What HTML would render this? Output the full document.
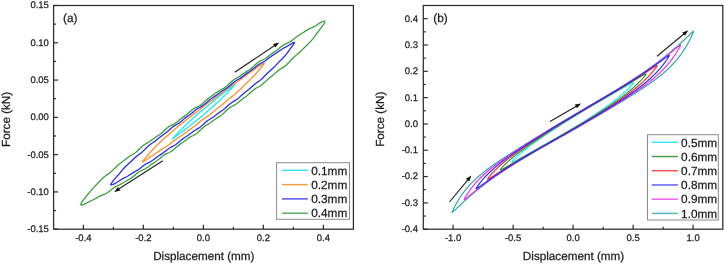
<!DOCTYPE html>
<html><head><meta charset="utf-8"><style>
html,body{margin:0;padding:0;background:#fff;overflow:hidden}
svg{display:block;will-change:transform;filter:blur(0.3px)}
</style></head><body>
<svg width="725" height="264" viewBox="0 0 725 264">
<style>.tk{font-family:"Liberation Sans", sans-serif;font-size:9.5px;fill:#1a1a1a}.lg{font-family:"Liberation Sans", sans-serif;font-size:11.8px;fill:#1a1a1a}.ti{font-family:"Liberation Sans", sans-serif;font-size:11.7px;fill:#1a1a1a}text{stroke:#222;stroke-width:0.25px;text-rendering:geometricPrecision}</style>
<rect width="725" height="264" fill="#fff"/>
<path d="M172.41,138.92 L172.41,138.91 L172.41,138.90 L172.42,138.89 L172.43,138.88 L172.44,138.86 L172.45,138.85 L172.47,138.83 L172.49,138.80 L172.51,138.78 L172.53,138.75 L172.55,138.72 L172.58,138.69 L172.61,138.65 L172.64,138.61 L172.68,138.57 L172.72,138.53 L172.75,138.48 L172.80,138.44 L172.84,138.38 L172.89,138.33 L172.93,138.28 L172.99,138.22 L173.04,138.16 L173.10,138.09 L173.15,138.03 L173.21,137.96 L173.28,137.89 L173.34,137.81 L173.41,137.74 L173.48,137.66 L173.55,137.58 L173.62,137.50 L173.70,137.41 L173.78,137.33 L173.86,137.24 L173.94,137.14 L174.03,137.05 L174.12,136.95 L174.21,136.85 L174.30,136.75 L174.40,136.65 L174.49,136.54 L174.59,136.44 L174.69,136.33 L174.80,136.21 L174.90,136.10 L175.01,135.98 L175.12,135.86 L175.23,135.74 L175.35,135.62 L175.46,135.49 L175.58,135.37 L175.70,135.24 L175.83,135.11 L175.95,134.97 L176.08,134.84 L176.21,134.70 L176.34,134.56 L176.47,134.42 L176.61,134.27 L176.75,134.12 L176.89,133.98 L177.03,133.83 L177.17,133.67 L177.32,133.52 L177.47,133.36 L177.62,133.20 L177.77,133.04 L177.92,132.88 L178.08,132.72 L178.24,132.55 L178.40,132.38 L178.56,132.21 L178.72,132.04 L178.89,131.87 L179.06,131.69 L179.23,131.52 L179.40,131.34 L179.57,131.16 L179.74,130.98 L179.92,130.79 L180.10,130.61 L180.28,130.42 L180.46,130.23 L180.65,130.04 L180.83,129.85 L181.02,129.66 L181.21,129.47 L181.40,129.28 L181.59,129.08 L181.79,128.88 L181.98,128.69 L182.18,128.49 L182.38,128.29 L182.58,128.09 L182.78,127.89 L182.99,127.69 L183.19,127.49 L183.40,127.29 L183.61,127.08 L183.82,126.88 L184.03,126.68 L184.24,126.47 L184.46,126.27 L184.68,126.06 L184.89,125.85 L185.11,125.65 L185.33,125.44 L185.55,125.23 L185.78,125.02 L186.00,124.82 L186.23,124.61 L186.46,124.39 L186.69,124.18 L186.92,123.97 L187.15,123.76 L187.38,123.54 L187.61,123.33 L187.85,123.11 L188.09,122.90 L188.32,122.68 L188.56,122.46 L188.80,122.24 L189.04,122.01 L189.28,121.79 L189.53,121.56 L189.77,121.34 L190.02,121.11 L190.26,120.88 L190.51,120.65 L190.76,120.41 L191.01,120.18 L191.26,119.94 L191.51,119.70 L191.76,119.46 L192.02,119.22 L192.27,118.98 L192.53,118.74 L192.78,118.49 L193.04,118.25 L193.30,118.00 L193.55,117.76 L193.81,117.51 L194.07,117.26 L194.33,117.02 L194.59,116.77 L194.86,116.52 L195.12,116.28 L195.38,116.03 L195.65,115.79 L195.91,115.54 L196.18,115.30 L196.44,115.06 L196.71,114.82 L196.97,114.58 L197.24,114.35 L197.51,114.11 L197.78,113.88 L198.05,113.65 L198.32,113.42 L198.59,113.20 L198.86,112.97 L199.13,112.75 L199.40,112.53 L199.67,112.31 L199.94,112.09 L200.21,111.87 L200.48,111.65 L200.76,111.44 L201.03,111.23 L201.30,111.01 L201.57,110.80 L201.85,110.59 L202.12,110.38 L202.39,110.16 L202.67,109.95 L202.94,109.74 L203.21,109.53 L203.49,109.31 L203.76,109.10 L204.03,108.88 L204.31,108.67 L204.58,108.45 L204.85,108.23 L205.13,108.01 L205.40,107.79 L205.67,107.56 L205.95,107.34 L206.22,107.11 L206.49,106.89 L206.76,106.66 L207.04,106.43 L207.31,106.20 L207.58,105.97 L207.85,105.73 L208.12,105.50 L208.39,105.27 L208.66,105.04 L208.93,104.80 L209.20,104.57 L209.47,104.34 L209.74,104.10 L210.01,103.87 L210.28,103.64 L210.55,103.41 L210.81,103.18 L211.08,102.96 L211.34,102.73 L211.61,102.51 L211.87,102.28 L212.14,102.06 L212.40,101.84 L212.66,101.62 L212.93,101.41 L213.19,101.19 L213.45,100.98 L213.71,100.77 L213.97,100.56 L214.22,100.36 L214.48,100.15 L214.74,99.95 L214.99,99.75 L215.25,99.54 L215.50,99.35 L215.76,99.15 L216.01,98.95 L216.26,98.76 L216.51,98.56 L216.76,98.37 L217.01,98.18 L217.26,97.99 L217.50,97.79 L217.75,97.60 L217.99,97.42 L218.24,97.23 L218.48,97.04 L218.72,96.85 L218.96,96.66 L219.20,96.48 L219.44,96.29 L219.67,96.10 L219.91,95.92 L220.14,95.74 L220.37,95.55 L220.60,95.37 L220.83,95.19 L221.06,95.00 L221.29,94.82 L221.52,94.64 L221.74,94.46 L221.97,94.29 L222.19,94.11 L222.41,93.93 L222.63,93.76 L222.84,93.58 L223.06,93.41 L223.28,93.24 L223.49,93.07 L223.70,92.90 L223.91,92.74 L224.12,92.57 L224.33,92.41 L224.53,92.25 L224.74,92.09 L224.94,91.93 L225.14,91.78 L225.34,91.62 L225.54,91.47 L225.73,91.32 L225.93,91.17 L226.12,91.02 L226.31,90.88 L226.50,90.74 L226.69,90.59 L226.87,90.45 L227.06,90.32 L227.24,90.18 L227.42,90.05 L227.60,89.91 L227.78,89.78 L227.95,89.65 L228.12,89.53 L228.29,89.40 L228.46,89.28 L228.63,89.15 L228.80,89.03 L228.96,88.91 L229.12,88.79 L229.28,88.68 L229.44,88.56 L229.60,88.45 L229.75,88.34 L229.90,88.22 L230.05,88.12 L230.20,88.01 L230.35,87.90 L230.49,87.79 L230.63,87.69 L230.77,87.59 L230.91,87.49 L231.05,87.39 L231.18,87.29 L231.31,87.19 L231.44,87.09 L231.57,87.00 L231.69,86.90 L231.82,86.81 L231.94,86.72 L232.06,86.63 L232.17,86.54 L232.29,86.46 L232.40,86.37 L232.51,86.29 L232.62,86.21 L232.72,86.13 L232.83,86.05 L232.93,85.97 L233.03,85.90 L233.12,85.82 L233.22,85.75 L233.31,85.68 L233.40,85.61 L233.49,85.54 L233.58,85.47 L233.66,85.41 L233.74,85.35 L233.82,85.28 L233.90,85.22 L233.97,85.17 L234.04,85.11 L234.11,85.06 L234.18,85.00 L234.24,84.95 L234.31,84.90 L234.37,84.85 L234.42,84.81 L234.48,84.76 L234.53,84.72 L234.59,84.68 L234.63,84.64 L234.68,84.61 L234.72,84.57 L234.77,84.54 L234.80,84.51 L234.84,84.48 L234.88,84.45 L234.91,84.42 L234.94,84.40 L234.97,84.38 L234.99,84.36 L235.01,84.34 L235.03,84.32 L235.05,84.30 L235.07,84.29 L235.08,84.28 L235.09,84.27 L235.10,84.26 L235.11,84.25 L235.11,84.24 L235.11,84.23 L235.11,84.22 L235.11,84.22 L235.10,84.22 L235.09,84.23 L235.08,84.24 L235.07,84.25 L235.05,84.27 L235.03,84.29 L235.01,84.31 L234.99,84.34 L234.97,84.36 L234.94,84.40 L234.91,84.43 L234.88,84.47 L234.84,84.51 L234.80,84.55 L234.77,84.59 L234.72,84.64 L234.68,84.69 L234.63,84.75 L234.59,84.80 L234.53,84.86 L234.48,84.92 L234.42,84.99 L234.37,85.06 L234.31,85.13 L234.24,85.20 L234.18,85.28 L234.11,85.36 L234.04,85.44 L233.97,85.52 L233.90,85.61 L233.82,85.70 L233.74,85.79 L233.66,85.88 L233.58,85.98 L233.49,86.08 L233.40,86.18 L233.31,86.29 L233.22,86.40 L233.12,86.51 L233.03,86.62 L232.93,86.74 L232.83,86.85 L232.72,86.97 L232.62,87.10 L232.51,87.22 L232.40,87.35 L232.29,87.48 L232.17,87.61 L232.06,87.74 L231.94,87.88 L231.82,88.02 L231.69,88.16 L231.57,88.30 L231.44,88.45 L231.31,88.59 L231.18,88.74 L231.05,88.89 L230.91,89.05 L230.77,89.20 L230.63,89.36 L230.49,89.51 L230.35,89.67 L230.20,89.83 L230.05,90.00 L229.90,90.16 L229.75,90.33 L229.60,90.50 L229.44,90.66 L229.28,90.83 L229.12,91.01 L228.96,91.18 L228.80,91.35 L228.63,91.53 L228.46,91.70 L228.29,91.88 L228.12,92.06 L227.95,92.24 L227.78,92.42 L227.60,92.60 L227.42,92.79 L227.24,92.97 L227.06,93.16 L226.87,93.34 L226.69,93.53 L226.50,93.72 L226.31,93.91 L226.12,94.10 L225.93,94.29 L225.73,94.48 L225.54,94.68 L225.34,94.87 L225.14,95.07 L224.94,95.26 L224.74,95.46 L224.53,95.66 L224.33,95.86 L224.12,96.06 L223.91,96.27 L223.70,96.47 L223.49,96.68 L223.28,96.89 L223.06,97.09 L222.84,97.30 L222.63,97.52 L222.41,97.73 L222.19,97.94 L221.97,98.16 L221.74,98.38 L221.52,98.59 L221.29,98.81 L221.06,99.03 L220.83,99.25 L220.60,99.48 L220.37,99.70 L220.14,99.93 L219.91,100.15 L219.67,100.38 L219.44,100.61 L219.20,100.83 L218.96,101.06 L218.72,101.29 L218.48,101.52 L218.24,101.75 L217.99,101.98 L217.75,102.21 L217.50,102.44 L217.26,102.66 L217.01,102.89 L216.76,103.12 L216.51,103.35 L216.26,103.58 L216.01,103.81 L215.76,104.03 L215.50,104.26 L215.25,104.49 L214.99,104.71 L214.74,104.94 L214.48,105.16 L214.22,105.39 L213.97,105.61 L213.71,105.84 L213.45,106.06 L213.19,106.29 L212.93,106.51 L212.66,106.74 L212.40,106.96 L212.14,107.19 L211.87,107.41 L211.61,107.64 L211.34,107.86 L211.08,108.09 L210.81,108.32 L210.55,108.55 L210.28,108.78 L210.01,109.02 L209.74,109.25 L209.47,109.48 L209.20,109.72 L208.93,109.96 L208.66,110.20 L208.39,110.44 L208.12,110.68 L207.85,110.92 L207.58,111.17 L207.31,111.41 L207.04,111.66 L206.76,111.91 L206.49,112.16 L206.22,112.40 L205.95,112.65 L205.67,112.90 L205.40,113.15 L205.13,113.40 L204.85,113.65 L204.58,113.89 L204.31,114.14 L204.03,114.38 L203.76,114.63 L203.49,114.87 L203.21,115.11 L202.94,115.35 L202.67,115.58 L202.39,115.82 L202.12,116.05 L201.85,116.28 L201.57,116.51 L201.30,116.73 L201.03,116.95 L200.76,117.17 L200.48,117.39 L200.21,117.61 L199.94,117.82 L199.67,118.03 L199.40,118.24 L199.13,118.45 L198.86,118.65 L198.59,118.86 L198.32,119.06 L198.05,119.26 L197.78,119.46 L197.51,119.66 L197.24,119.86 L196.97,120.06 L196.71,120.26 L196.44,120.45 L196.18,120.65 L195.91,120.85 L195.65,121.04 L195.38,121.24 L195.12,121.44 L194.86,121.64 L194.59,121.84 L194.33,122.04 L194.07,122.24 L193.81,122.44 L193.55,122.64 L193.30,122.85 L193.04,123.05 L192.78,123.25 L192.53,123.46 L192.27,123.66 L192.02,123.87 L191.76,124.07 L191.51,124.28 L191.26,124.48 L191.01,124.69 L190.76,124.89 L190.51,125.10 L190.26,125.30 L190.02,125.51 L189.77,125.71 L189.53,125.91 L189.28,126.11 L189.04,126.31 L188.80,126.51 L188.56,126.70 L188.32,126.90 L188.09,127.09 L187.85,127.28 L187.61,127.47 L187.38,127.66 L187.15,127.85 L186.92,128.03 L186.69,128.22 L186.46,128.40 L186.23,128.58 L186.00,128.75 L185.78,128.93 L185.55,129.10 L185.33,129.27 L185.11,129.44 L184.89,129.61 L184.68,129.78 L184.46,129.94 L184.24,130.10 L184.03,130.27 L183.82,130.43 L183.61,130.58 L183.40,130.74 L183.19,130.90 L182.99,131.05 L182.78,131.20 L182.58,131.35 L182.38,131.50 L182.18,131.65 L181.98,131.80 L181.79,131.95 L181.59,132.09 L181.40,132.24 L181.21,132.38 L181.02,132.52 L180.83,132.66 L180.65,132.80 L180.46,132.94 L180.28,133.08 L180.10,133.21 L179.92,133.35 L179.74,133.48 L179.57,133.61 L179.40,133.75 L179.23,133.88 L179.06,134.00 L178.89,134.13 L178.72,134.26 L178.56,134.38 L178.40,134.51 L178.24,134.63 L178.08,134.75 L177.92,134.87 L177.77,134.99 L177.62,135.10 L177.47,135.22 L177.32,135.33 L177.17,135.44 L177.03,135.55 L176.89,135.66 L176.75,135.77 L176.61,135.87 L176.47,135.98 L176.34,136.08 L176.21,136.18 L176.08,136.27 L175.95,136.37 L175.83,136.47 L175.70,136.56 L175.58,136.65 L175.46,136.74 L175.35,136.83 L175.23,136.91 L175.12,137.00 L175.01,137.08 L174.90,137.16 L174.80,137.24 L174.69,137.31 L174.59,137.39 L174.49,137.46 L174.40,137.53 L174.30,137.60 L174.21,137.67 L174.12,137.74 L174.03,137.80 L173.94,137.87 L173.86,137.93 L173.78,137.98 L173.70,138.04 L173.62,138.10 L173.55,138.15 L173.48,138.20 L173.41,138.25 L173.34,138.30 L173.28,138.35 L173.21,138.39 L173.15,138.44 L173.10,138.48 L173.04,138.52 L172.99,138.55 L172.93,138.59 L172.89,138.62 L172.84,138.66 L172.80,138.69 L172.75,138.72 L172.72,138.74 L172.68,138.77 L172.64,138.79 L172.61,138.81 L172.58,138.83 L172.55,138.85 L172.53,138.87 L172.51,138.88 L172.49,138.90 L172.47,138.91 L172.45,138.92 L172.44,138.92 L172.43,138.93 L172.42,138.93 L172.41,138.93 L172.41,138.93 L172.41,138.92" fill="none" stroke="#18e8f4" stroke-width="1.3" stroke-linejoin="round"/>
<path d="M142.41,161.74 L142.41,161.72 L142.42,161.69 L142.43,161.66 L142.45,161.63 L142.47,161.59 L142.49,161.54 L142.52,161.49 L142.56,161.44 L142.60,161.38 L142.64,161.31 L142.69,161.24 L142.74,161.16 L142.80,161.08 L142.86,161.00 L142.93,160.91 L143.00,160.81 L143.08,160.71 L143.16,160.60 L143.25,160.49 L143.34,160.38 L143.43,160.26 L143.53,160.13 L143.63,160.00 L143.74,159.87 L143.86,159.73 L143.97,159.58 L144.10,159.44 L144.22,159.28 L144.35,159.12 L144.49,158.96 L144.63,158.79 L144.77,158.62 L144.92,158.44 L145.07,158.26 L145.23,158.08 L145.40,157.88 L145.56,157.69 L145.73,157.49 L145.91,157.28 L146.09,157.07 L146.27,156.86 L146.46,156.64 L146.65,156.41 L146.85,156.19 L147.05,155.95 L147.26,155.71 L147.47,155.47 L147.68,155.22 L147.90,154.97 L148.12,154.72 L148.35,154.46 L148.58,154.19 L148.82,153.92 L149.06,153.65 L149.30,153.37 L149.55,153.09 L149.80,152.81 L150.06,152.52 L150.32,152.23 L150.58,151.94 L150.85,151.64 L151.12,151.34 L151.40,151.04 L151.68,150.74 L151.96,150.43 L152.25,150.12 L152.54,149.81 L152.84,149.50 L153.14,149.19 L153.44,148.87 L153.75,148.56 L154.06,148.24 L154.37,147.92 L154.69,147.60 L155.01,147.27 L155.34,146.95 L155.67,146.62 L156.00,146.29 L156.34,145.96 L156.68,145.62 L157.02,145.28 L157.37,144.94 L157.72,144.60 L158.08,144.25 L158.43,143.89 L158.79,143.54 L159.16,143.18 L159.53,142.82 L159.90,142.45 L160.27,142.08 L160.65,141.71 L161.03,141.34 L161.42,140.96 L161.80,140.59 L162.20,140.21 L162.59,139.83 L162.99,139.46 L163.39,139.08 L163.79,138.71 L164.20,138.34 L164.61,137.97 L165.02,137.60 L165.43,137.24 L165.85,136.88 L166.27,136.53 L166.70,136.18 L167.12,135.83 L167.55,135.48 L167.98,135.13 L168.42,134.79 L168.85,134.44 L169.29,134.09 L169.74,133.73 L170.18,133.38 L170.63,133.02 L171.08,132.65 L171.53,132.27 L171.99,131.89 L172.45,131.50 L172.91,131.10 L173.37,130.69 L173.83,130.28 L174.30,129.86 L174.77,129.44 L175.24,129.01 L175.71,128.57 L176.19,128.14 L176.66,127.70 L177.14,127.27 L177.62,126.83 L178.11,126.40 L178.59,125.98 L179.08,125.56 L179.57,125.14 L180.06,124.74 L180.55,124.33 L181.05,123.93 L181.54,123.54 L182.04,123.15 L182.54,122.77 L183.04,122.38 L183.54,122.00 L184.05,121.61 L184.55,121.23 L185.06,120.84 L185.57,120.44 L186.08,120.05 L186.59,119.65 L187.10,119.24 L187.61,118.83 L188.13,118.42 L188.65,118.01 L189.16,117.60 L189.68,117.19 L190.20,116.78 L190.72,116.37 L191.24,115.96 L191.76,115.57 L192.29,115.17 L192.81,114.78 L193.33,114.39 L193.86,114.01 L194.39,113.63 L194.91,113.25 L195.44,112.87 L195.97,112.49 L196.50,112.10 L197.02,111.71 L197.55,111.31 L198.08,110.91 L198.61,110.50 L199.15,110.07 L199.68,109.64 L200.21,109.21 L200.74,108.76 L201.27,108.31 L201.80,107.86 L202.34,107.41 L202.87,106.95 L203.40,106.50 L203.93,106.06 L204.46,105.62 L205.00,105.19 L205.53,104.77 L206.06,104.37 L206.59,103.97 L207.12,103.58 L207.65,103.20 L208.19,102.83 L208.72,102.47 L209.25,102.11 L209.78,101.76 L210.30,101.41 L210.83,101.05 L211.36,100.69 L211.89,100.33 L212.41,99.97 L212.94,99.60 L213.47,99.22 L213.99,98.84 L214.51,98.45 L215.04,98.05 L215.56,97.65 L216.08,97.25 L216.60,96.85 L217.12,96.45 L217.64,96.05 L218.15,95.65 L218.67,95.26 L219.19,94.86 L219.70,94.48 L220.21,94.10 L220.72,93.72 L221.23,93.35 L221.74,92.98 L222.25,92.61 L222.75,92.25 L223.26,91.88 L223.76,91.51 L224.26,91.15 L224.76,90.78 L225.26,90.40 L225.75,90.03 L226.25,89.65 L226.74,89.27 L227.23,88.88 L227.72,88.50 L228.21,88.12 L228.69,87.73 L229.18,87.35 L229.66,86.98 L230.14,86.60 L230.61,86.24 L231.09,85.88 L231.56,85.52 L232.03,85.18 L232.50,84.85 L232.97,84.52 L233.43,84.20 L233.90,83.89 L234.35,83.59 L234.81,83.29 L235.27,82.99 L235.72,82.70 L236.17,82.42 L236.62,82.13 L237.06,81.85 L237.51,81.56 L237.95,81.27 L238.38,80.98 L238.82,80.69 L239.25,80.39 L239.68,80.09 L240.10,79.79 L240.53,79.48 L240.95,79.17 L241.37,78.86 L241.78,78.54 L242.19,78.22 L242.60,77.91 L243.01,77.59 L243.41,77.28 L243.81,76.96 L244.21,76.65 L244.60,76.35 L245.00,76.04 L245.38,75.75 L245.77,75.45 L246.15,75.17 L246.53,74.88 L246.90,74.61 L247.27,74.34 L247.64,74.07 L248.01,73.81 L248.37,73.56 L248.72,73.30 L249.08,73.06 L249.43,72.82 L249.78,72.58 L250.12,72.34 L250.46,72.11 L250.80,71.88 L251.13,71.65 L251.46,71.43 L251.79,71.20 L252.11,70.98 L252.43,70.77 L252.74,70.55 L253.05,70.33 L253.36,70.12 L253.66,69.91 L253.96,69.70 L254.26,69.49 L254.55,69.29 L254.84,69.09 L255.12,68.89 L255.40,68.69 L255.68,68.50 L255.95,68.31 L256.22,68.12 L256.48,67.94 L256.74,67.76 L257.00,67.58 L257.25,67.41 L257.50,67.24 L257.74,67.07 L257.98,66.91 L258.22,66.75 L258.45,66.60 L258.68,66.44 L258.90,66.30 L259.12,66.15 L259.33,66.01 L259.54,65.88 L259.75,65.75 L259.95,65.62 L260.15,65.49 L260.34,65.37 L260.53,65.25 L260.71,65.14 L260.89,65.03 L261.07,64.92 L261.24,64.81 L261.40,64.71 L261.57,64.61 L261.73,64.51 L261.88,64.42 L262.03,64.33 L262.17,64.25 L262.31,64.16 L262.45,64.08 L262.58,64.00 L262.70,63.93 L262.83,63.86 L262.94,63.79 L263.06,63.72 L263.17,63.66 L263.27,63.60 L263.37,63.55 L263.46,63.49 L263.55,63.44 L263.64,63.39 L263.72,63.35 L263.80,63.31 L263.87,63.27 L263.94,63.24 L264.00,63.20 L264.06,63.18 L264.11,63.15 L264.16,63.13 L264.20,63.11 L264.24,63.09 L264.28,63.08 L264.31,63.07 L264.33,63.06 L264.35,63.06 L264.37,63.06 L264.38,63.06 L264.39,63.06 L264.39,63.05 L264.39,63.08 L264.38,63.10 L264.37,63.14 L264.35,63.17 L264.33,63.22 L264.31,63.26 L264.28,63.32 L264.24,63.38 L264.20,63.44 L264.16,63.51 L264.11,63.59 L264.06,63.67 L264.00,63.76 L263.94,63.85 L263.87,63.95 L263.80,64.06 L263.72,64.16 L263.64,64.28 L263.55,64.40 L263.46,64.53 L263.37,64.66 L263.27,64.79 L263.17,64.94 L263.06,65.08 L262.94,65.24 L262.83,65.39 L262.70,65.55 L262.58,65.72 L262.45,65.89 L262.31,66.07 L262.17,66.25 L262.03,66.44 L261.88,66.63 L261.73,66.82 L261.57,67.02 L261.40,67.22 L261.24,67.43 L261.07,67.64 L260.89,67.86 L260.71,68.07 L260.53,68.30 L260.34,68.52 L260.15,68.75 L259.95,68.99 L259.75,69.23 L259.54,69.47 L259.33,69.71 L259.12,69.96 L258.90,70.21 L258.68,70.46 L258.45,70.72 L258.22,70.98 L257.98,71.25 L257.74,71.52 L257.50,71.79 L257.25,72.07 L257.00,72.35 L256.74,72.63 L256.48,72.92 L256.22,73.21 L255.95,73.50 L255.68,73.80 L255.40,74.10 L255.12,74.41 L254.84,74.72 L254.55,75.03 L254.26,75.35 L253.96,75.67 L253.66,75.99 L253.36,76.31 L253.05,76.64 L252.74,76.97 L252.43,77.31 L252.11,77.64 L251.79,77.98 L251.46,78.32 L251.13,78.66 L250.80,79.00 L250.46,79.34 L250.12,79.69 L249.78,80.03 L249.43,80.37 L249.08,80.72 L248.72,81.06 L248.37,81.40 L248.01,81.75 L247.64,82.09 L247.27,82.44 L246.90,82.79 L246.53,83.14 L246.15,83.49 L245.77,83.84 L245.38,84.20 L245.00,84.56 L244.60,84.92 L244.21,85.29 L243.81,85.67 L243.41,86.05 L243.01,86.43 L242.60,86.83 L242.19,87.22 L241.78,87.63 L241.37,88.04 L240.95,88.45 L240.53,88.87 L240.10,89.29 L239.68,89.72 L239.25,90.14 L238.82,90.57 L238.38,90.99 L237.95,91.42 L237.51,91.84 L237.06,92.26 L236.62,92.67 L236.17,93.08 L235.72,93.48 L235.27,93.87 L234.81,94.26 L234.35,94.65 L233.90,95.03 L233.43,95.40 L232.97,95.78 L232.50,96.14 L232.03,96.51 L231.56,96.88 L231.09,97.25 L230.61,97.62 L230.14,97.99 L229.66,98.37 L229.18,98.76 L228.69,99.15 L228.21,99.54 L227.72,99.95 L227.23,100.36 L226.74,100.77 L226.25,101.19 L225.75,101.61 L225.26,102.03 L224.76,102.46 L224.26,102.88 L223.76,103.31 L223.26,103.73 L222.75,104.15 L222.25,104.57 L221.74,104.98 L221.23,105.39 L220.72,105.80 L220.21,106.21 L219.70,106.61 L219.19,107.02 L218.67,107.42 L218.15,107.83 L217.64,108.24 L217.12,108.65 L216.60,109.07 L216.08,109.50 L215.56,109.93 L215.04,110.36 L214.51,110.80 L213.99,111.24 L213.47,111.68 L212.94,112.13 L212.41,112.57 L211.89,113.01 L211.36,113.44 L210.83,113.87 L210.30,114.29 L209.78,114.70 L209.25,115.10 L208.72,115.49 L208.19,115.87 L207.65,116.25 L207.12,116.62 L206.59,116.98 L206.06,117.34 L205.53,117.69 L205.00,118.05 L204.46,118.41 L203.93,118.77 L203.40,119.14 L202.87,119.52 L202.34,119.90 L201.80,120.30 L201.27,120.70 L200.74,121.11 L200.21,121.54 L199.68,121.96 L199.15,122.40 L198.61,122.83 L198.08,123.27 L197.55,123.70 L197.02,124.14 L196.50,124.57 L195.97,124.99 L195.44,125.41 L194.91,125.82 L194.39,126.22 L193.86,126.62 L193.33,127.00 L192.81,127.39 L192.29,127.76 L191.76,128.14 L191.24,128.51 L190.72,128.88 L190.20,129.25 L189.68,129.62 L189.16,129.99 L188.65,130.37 L188.13,130.75 L187.61,131.13 L187.10,131.51 L186.59,131.89 L186.08,132.27 L185.57,132.65 L185.06,133.03 L184.55,133.40 L184.05,133.77 L183.54,134.13 L183.04,134.49 L182.54,134.84 L182.04,135.18 L181.54,135.52 L181.05,135.85 L180.55,136.18 L180.06,136.50 L179.57,136.82 L179.08,137.14 L178.59,137.46 L178.11,137.78 L177.62,138.10 L177.14,138.42 L176.66,138.75 L176.19,139.09 L175.71,139.42 L175.24,139.77 L174.77,140.12 L174.30,140.47 L173.83,140.83 L173.37,141.19 L172.91,141.55 L172.45,141.92 L171.99,142.28 L171.53,142.64 L171.08,143.00 L170.63,143.35 L170.18,143.70 L169.74,144.04 L169.29,144.37 L168.85,144.70 L168.42,145.01 L167.98,145.32 L167.55,145.63 L167.12,145.92 L166.70,146.21 L166.27,146.49 L165.85,146.76 L165.43,147.03 L165.02,147.29 L164.61,147.55 L164.20,147.81 L163.79,148.07 L163.39,148.32 L162.99,148.57 L162.59,148.83 L162.20,149.08 L161.80,149.33 L161.42,149.59 L161.03,149.84 L160.65,150.10 L160.27,150.35 L159.90,150.60 L159.53,150.86 L159.16,151.11 L158.79,151.36 L158.43,151.61 L158.08,151.86 L157.72,152.11 L157.37,152.35 L157.02,152.59 L156.68,152.82 L156.34,153.06 L156.00,153.29 L155.67,153.51 L155.34,153.73 L155.01,153.95 L154.69,154.17 L154.37,154.38 L154.06,154.58 L153.75,154.79 L153.44,154.99 L153.14,155.18 L152.84,155.38 L152.54,155.57 L152.25,155.75 L151.96,155.94 L151.68,156.12 L151.40,156.30 L151.12,156.48 L150.85,156.66 L150.58,156.83 L150.32,157.00 L150.06,157.17 L149.80,157.34 L149.55,157.50 L149.30,157.67 L149.06,157.83 L148.82,157.99 L148.58,158.14 L148.35,158.30 L148.12,158.45 L147.90,158.60 L147.68,158.74 L147.47,158.89 L147.26,159.03 L147.05,159.17 L146.85,159.30 L146.65,159.43 L146.46,159.56 L146.27,159.69 L146.09,159.81 L145.91,159.93 L145.73,160.04 L145.56,160.16 L145.40,160.26 L145.23,160.37 L145.07,160.47 L144.92,160.57 L144.77,160.66 L144.63,160.75 L144.49,160.84 L144.35,160.92 L144.22,161.00 L144.10,161.07 L143.97,161.14 L143.86,161.21 L143.74,161.28 L143.63,161.34 L143.53,161.39 L143.43,161.45 L143.34,161.50 L143.25,161.54 L143.16,161.59 L143.08,161.63 L143.00,161.66 L142.93,161.69 L142.86,161.72 L142.80,161.75 L142.74,161.77 L142.69,161.79 L142.64,161.81 L142.60,161.82 L142.56,161.82 L142.52,161.83 L142.49,161.83 L142.47,161.83 L142.45,161.82 L142.43,161.81 L142.42,161.79 L142.41,161.77 L142.41,161.74" fill="none" stroke="#fa9028" stroke-width="1.3" stroke-linejoin="round"/>
<path d="M110.79,184.66 L110.79,184.59 L110.80,184.52 L110.82,184.45 L110.85,184.37 L110.88,184.29 L110.92,184.19 L110.96,184.09 L111.01,183.99 L111.07,183.87 L111.14,183.75 L111.21,183.62 L111.29,183.48 L111.38,183.33 L111.47,183.18 L111.58,183.02 L111.68,182.85 L111.80,182.68 L111.92,182.50 L112.05,182.31 L112.19,182.11 L112.33,181.91 L112.48,181.71 L112.63,181.49 L112.80,181.27 L112.97,181.05 L113.14,180.82 L113.33,180.58 L113.52,180.34 L113.72,180.10 L113.92,179.85 L114.13,179.59 L114.35,179.33 L114.57,179.07 L114.80,178.80 L115.04,178.53 L115.29,178.25 L115.54,177.96 L115.79,177.67 L116.06,177.38 L116.33,177.07 L116.61,176.76 L116.89,176.45 L117.18,176.12 L117.48,175.79 L117.78,175.45 L118.09,175.09 L118.41,174.73 L118.73,174.36 L119.06,173.98 L119.40,173.59 L119.74,173.18 L120.09,172.77 L120.44,172.35 L120.80,171.92 L121.17,171.48 L121.54,171.03 L121.92,170.58 L122.31,170.12 L122.70,169.67 L123.10,169.21 L123.50,168.75 L123.91,168.29 L124.33,167.83 L124.75,167.38 L125.18,166.94 L125.61,166.50 L126.05,166.06 L126.49,165.63 L126.95,165.20 L127.40,164.77 L127.87,164.34 L128.33,163.91 L128.81,163.48 L129.29,163.04 L129.77,162.60 L130.26,162.14 L130.76,161.68 L131.26,161.20 L131.77,160.72 L132.28,160.23 L132.80,159.73 L133.32,159.23 L133.85,158.73 L134.38,158.23 L134.92,157.74 L135.47,157.25 L136.02,156.77 L136.57,156.30 L137.13,155.85 L137.70,155.40 L138.26,154.96 L138.84,154.52 L139.42,154.08 L140.00,153.63 L140.59,153.18 L141.18,152.70 L141.78,152.20 L142.38,151.68 L142.99,151.13 L143.60,150.56 L144.22,149.97 L144.84,149.35 L145.47,148.73 L146.10,148.10 L146.73,147.48 L147.37,146.87 L148.01,146.28 L148.66,145.72 L149.31,145.18 L149.96,144.68 L150.62,144.19 L151.28,143.73 L151.95,143.28 L152.62,142.83 L153.29,142.38 L153.97,141.91 L154.65,141.43 L155.34,140.92 L156.03,140.39 L156.72,139.84 L157.42,139.27 L158.12,138.69 L158.82,138.10 L159.52,137.52 L160.23,136.95 L160.95,136.40 L161.66,135.86 L162.38,135.34 L163.10,134.82 L163.83,134.31 L164.56,133.79 L165.29,133.25 L166.02,132.69 L166.76,132.09 L167.50,131.47 L168.24,130.82 L168.98,130.15 L169.73,129.47 L170.48,128.79 L171.23,128.13 L171.99,127.51 L172.74,126.92 L173.50,126.37 L174.26,125.87 L175.03,125.40 L175.79,124.96 L176.56,124.52 L177.33,124.08 L178.10,123.62 L178.87,123.12 L179.65,122.58 L180.43,121.99 L181.21,121.37 L181.99,120.72 L182.77,120.05 L183.55,119.38 L184.34,118.71 L185.12,118.07 L185.91,117.45 L186.70,116.86 L187.49,116.29 L188.28,115.74 L189.07,115.18 L189.87,114.62 L190.66,114.04 L191.46,113.43 L192.25,112.80 L193.05,112.15 L193.85,111.49 L194.64,110.84 L195.44,110.20 L196.24,109.59 L197.04,109.02 L197.84,108.49 L198.64,108.00 L199.44,107.54 L200.25,107.09 L201.05,106.64 L201.85,106.17 L202.65,105.66 L203.45,105.10 L204.25,104.50 L205.05,103.84 L205.86,103.15 L206.66,102.43 L207.46,101.70 L208.26,100.99 L209.06,100.30 L209.86,99.65 L210.66,99.05 L211.45,98.48 L212.25,97.94 L213.05,97.43 L213.84,96.92 L214.64,96.40 L215.43,95.87 L216.23,95.32 L217.02,94.74 L217.81,94.15 L218.60,93.54 L219.39,92.94 L220.18,92.35 L220.96,91.78 L221.75,91.24 L222.53,90.73 L223.31,90.24 L224.09,89.77 L224.87,89.30 L225.65,88.81 L226.43,88.31 L227.20,87.76 L227.97,87.18 L228.74,86.56 L229.51,85.90 L230.27,85.22 L231.04,84.53 L231.80,83.85 L232.56,83.19 L233.31,82.57 L234.07,81.99 L234.82,81.45 L235.57,80.95 L236.32,80.50 L237.06,80.06 L237.80,79.64 L238.54,79.22 L239.28,78.79 L240.01,78.33 L240.74,77.85 L241.47,77.35 L242.20,76.82 L242.92,76.28 L243.64,75.72 L244.35,75.17 L245.07,74.63 L245.78,74.11 L246.48,73.60 L247.18,73.12 L247.88,72.65 L248.58,72.19 L249.27,71.74 L249.96,71.28 L250.65,70.81 L251.33,70.33 L252.01,69.83 L252.68,69.32 L253.35,68.78 L254.02,68.23 L254.68,67.68 L255.34,67.13 L255.99,66.59 L256.64,66.08 L257.29,65.58 L257.93,65.12 L258.57,64.69 L259.20,64.29 L259.83,63.92 L260.46,63.57 L261.08,63.24 L261.70,62.92 L262.31,62.59 L262.92,62.26 L263.52,61.92 L264.12,61.56 L264.71,61.19 L265.30,60.79 L265.88,60.38 L266.46,59.95 L267.04,59.51 L267.60,59.07 L268.17,58.62 L268.73,58.18 L269.28,57.75 L269.83,57.33 L270.38,56.92 L270.92,56.53 L271.45,56.15 L271.98,55.79 L272.50,55.45 L273.02,55.11 L273.53,54.78 L274.04,54.46 L274.54,54.14 L275.04,53.83 L275.53,53.51 L276.01,53.20 L276.49,52.88 L276.97,52.55 L277.43,52.23 L277.90,51.91 L278.35,51.58 L278.81,51.26 L279.25,50.94 L279.69,50.63 L280.12,50.33 L280.55,50.03 L280.97,49.75 L281.39,49.47 L281.80,49.21 L282.20,48.96 L282.60,48.72 L282.99,48.49 L283.38,48.27 L283.76,48.06 L284.13,47.86 L284.50,47.67 L284.86,47.48 L285.21,47.30 L285.56,47.12 L285.90,46.95 L286.24,46.78 L286.57,46.61 L286.89,46.44 L287.21,46.27 L287.52,46.10 L287.82,45.93 L288.12,45.76 L288.41,45.60 L288.69,45.43 L288.97,45.26 L289.24,45.10 L289.51,44.93 L289.76,44.77 L290.01,44.62 L290.26,44.46 L290.50,44.31 L290.73,44.16 L290.95,44.02 L291.17,43.88 L291.38,43.75 L291.58,43.62 L291.78,43.50 L291.97,43.38 L292.16,43.27 L292.33,43.17 L292.50,43.07 L292.67,42.98 L292.82,42.89 L292.97,42.81 L293.11,42.74 L293.25,42.67 L293.38,42.61 L293.50,42.56 L293.62,42.51 L293.72,42.47 L293.83,42.43 L293.92,42.40 L294.01,42.38 L294.09,42.36 L294.16,42.34 L294.23,42.34 L294.29,42.34 L294.34,42.34 L294.38,42.35 L294.42,42.37 L294.45,42.39 L294.48,42.42 L294.50,42.45 L294.51,42.50 L294.51,42.56 L294.51,42.58 L294.50,42.62 L294.48,42.67 L294.45,42.74 L294.42,42.81 L294.38,42.89 L294.34,42.98 L294.29,43.08 L294.23,43.18 L294.16,43.30 L294.09,43.42 L294.01,43.55 L293.92,43.69 L293.83,43.84 L293.72,43.99 L293.62,44.16 L293.50,44.33 L293.38,44.51 L293.25,44.69 L293.11,44.89 L292.97,45.09 L292.82,45.30 L292.67,45.52 L292.50,45.75 L292.33,45.99 L292.16,46.23 L291.97,46.49 L291.78,46.75 L291.58,47.02 L291.38,47.30 L291.17,47.59 L290.95,47.89 L290.73,48.20 L290.50,48.51 L290.26,48.84 L290.01,49.18 L289.76,49.52 L289.51,49.87 L289.24,50.24 L288.97,50.61 L288.69,50.99 L288.41,51.37 L288.12,51.76 L287.82,52.16 L287.52,52.57 L287.21,52.98 L286.89,53.39 L286.57,53.80 L286.24,54.22 L285.90,54.64 L285.56,55.05 L285.21,55.47 L284.86,55.89 L284.50,56.30 L284.13,56.71 L283.76,57.12 L283.38,57.53 L282.99,57.93 L282.60,58.34 L282.20,58.75 L281.80,59.15 L281.39,59.57 L280.97,59.98 L280.55,60.40 L280.12,60.83 L279.69,61.27 L279.25,61.71 L278.81,62.17 L278.35,62.63 L277.90,63.11 L277.43,63.59 L276.97,64.08 L276.49,64.58 L276.01,65.08 L275.53,65.58 L275.04,66.09 L274.54,66.59 L274.04,67.08 L273.53,67.58 L273.02,68.06 L272.50,68.54 L271.98,69.02 L271.45,69.49 L270.92,69.97 L270.38,70.44 L269.83,70.92 L269.28,71.42 L268.73,71.92 L268.17,72.44 L267.60,72.98 L267.04,73.54 L266.46,74.12 L265.88,74.71 L265.30,75.32 L264.71,75.94 L264.12,76.56 L263.52,77.18 L262.92,77.78 L262.31,78.37 L261.70,78.94 L261.08,79.49 L260.46,80.01 L259.83,80.50 L259.20,80.98 L258.57,81.43 L257.93,81.88 L257.29,82.33 L256.64,82.78 L255.99,83.25 L255.34,83.74 L254.68,84.26 L254.02,84.81 L253.35,85.38 L252.68,85.97 L252.01,86.58 L251.33,87.20 L250.65,87.83 L249.96,88.44 L249.27,89.05 L248.58,89.64 L247.88,90.21 L247.18,90.77 L246.48,91.32 L245.78,91.86 L245.07,92.41 L244.35,92.97 L243.64,93.55 L242.92,94.15 L242.20,94.77 L241.47,95.41 L240.74,96.06 L240.01,96.72 L239.28,97.37 L238.54,98.00 L237.80,98.60 L237.06,99.17 L236.32,99.70 L235.57,100.19 L234.82,100.66 L234.07,101.12 L233.31,101.57 L232.56,102.03 L231.80,102.52 L231.04,103.05 L230.27,103.63 L229.51,104.25 L228.74,104.91 L227.97,105.60 L227.20,106.31 L226.43,107.02 L225.65,107.72 L224.87,108.40 L224.09,109.04 L223.31,109.65 L222.53,110.23 L221.75,110.78 L220.96,111.32 L220.18,111.86 L219.39,112.41 L218.60,112.98 L217.81,113.58 L217.02,114.19 L216.23,114.82 L215.43,115.45 L214.64,116.08 L213.84,116.69 L213.05,117.27 L212.25,117.81 L211.45,118.33 L210.66,118.82 L209.86,119.30 L209.06,119.78 L208.26,120.29 L207.46,120.82 L206.66,121.40 L205.86,122.03 L205.05,122.71 L204.25,123.42 L203.45,124.15 L202.65,124.89 L201.85,125.61 L201.05,126.31 L200.25,126.96 L199.44,127.56 L198.64,128.11 L197.84,128.62 L197.04,129.11 L196.24,129.58 L195.44,130.05 L194.64,130.55 L193.85,131.07 L193.05,131.62 L192.25,132.19 L191.46,132.79 L190.66,133.40 L189.87,134.01 L189.07,134.60 L188.28,135.18 L187.49,135.73 L186.70,136.25 L185.91,136.76 L185.12,137.27 L184.34,137.78 L183.55,138.31 L182.77,138.87 L181.99,139.46 L181.21,140.08 L180.43,140.74 L179.65,141.41 L178.87,142.08 L178.10,142.74 L177.33,143.38 L176.56,143.97 L175.79,144.52 L175.03,145.02 L174.26,145.48 L173.50,145.90 L172.74,146.30 L171.99,146.69 L171.23,147.10 L170.48,147.52 L169.73,147.97 L168.98,148.46 L168.24,148.99 L167.50,149.54 L166.76,150.11 L166.02,150.69 L165.29,151.27 L164.56,151.84 L163.83,152.39 L163.10,152.92 L162.38,153.42 L161.66,153.90 L160.95,154.37 L160.23,154.83 L159.52,155.29 L158.82,155.76 L158.12,156.24 L157.42,156.73 L156.72,157.25 L156.03,157.77 L155.34,158.30 L154.65,158.82 L153.97,159.34 L153.29,159.84 L152.62,160.31 L151.95,160.75 L151.28,161.16 L150.62,161.54 L149.96,161.90 L149.31,162.24 L148.66,162.56 L148.01,162.89 L147.37,163.22 L146.73,163.56 L146.10,163.92 L145.47,164.31 L144.84,164.72 L144.22,165.15 L143.60,165.61 L142.99,166.08 L142.38,166.55 L141.78,167.03 L141.18,167.51 L140.59,167.97 L140.00,168.42 L139.42,168.84 L138.84,169.25 L138.26,169.63 L137.70,170.00 L137.13,170.34 L136.57,170.67 L136.02,170.99 L135.47,171.30 L134.92,171.61 L134.38,171.92 L133.85,172.23 L133.32,172.55 L132.80,172.87 L132.28,173.19 L131.77,173.52 L131.26,173.84 L130.76,174.17 L130.26,174.50 L129.77,174.82 L129.29,175.13 L128.81,175.43 L128.33,175.72 L127.87,176.00 L127.40,176.27 L126.95,176.53 L126.49,176.78 L126.05,177.01 L125.61,177.24 L125.18,177.46 L124.75,177.68 L124.33,177.89 L123.91,178.10 L123.50,178.30 L123.10,178.51 L122.70,178.72 L122.31,178.94 L121.92,179.15 L121.54,179.37 L121.17,179.59 L120.80,179.82 L120.44,180.04 L120.09,180.27 L119.74,180.50 L119.40,180.72 L119.06,180.95 L118.73,181.17 L118.41,181.39 L118.09,181.60 L117.78,181.81 L117.48,182.01 L117.18,182.20 L116.89,182.38 L116.61,182.56 L116.33,182.73 L116.06,182.90 L115.79,183.05 L115.54,183.20 L115.29,183.33 L115.04,183.46 L114.80,183.59 L114.57,183.70 L114.35,183.81 L114.13,183.91 L113.92,184.01 L113.72,184.10 L113.52,184.18 L113.33,184.26 L113.14,184.33 L112.97,184.40 L112.80,184.46 L112.63,184.52 L112.48,184.57 L112.33,184.62 L112.19,184.67 L112.05,184.71 L111.92,184.74 L111.80,184.77 L111.68,184.80 L111.58,184.82 L111.47,184.84 L111.38,184.86 L111.29,184.87 L111.21,184.88 L111.14,184.88 L111.07,184.88 L111.01,184.87 L110.96,184.86 L110.92,184.85 L110.88,184.83 L110.85,184.81 L110.82,184.78 L110.80,184.75 L110.79,184.71 L110.79,184.66" fill="none" stroke="#2a2af0" stroke-width="1.3" stroke-linejoin="round"/>
<path d="M80.79,204.42 L80.79,204.31 L80.81,204.22 L80.83,204.11 L80.86,204.00 L80.91,203.88 L80.96,203.75 L81.02,203.61 L81.09,203.46 L81.17,203.30 L81.25,203.14 L81.35,202.96 L81.46,202.77 L81.57,202.58 L81.70,202.38 L81.83,202.17 L81.98,201.95 L82.13,201.72 L82.29,201.48 L82.46,201.24 L82.64,200.99 L82.83,200.73 L83.03,200.46 L83.24,200.18 L83.46,199.90 L83.68,199.61 L83.92,199.31 L84.16,198.99 L84.42,198.67 L84.68,198.35 L84.95,198.01 L85.23,197.66 L85.52,197.30 L85.82,196.92 L86.12,196.54 L86.44,196.15 L86.76,195.74 L87.10,195.32 L87.44,194.89 L87.79,194.45 L88.15,194.00 L88.52,193.54 L88.90,193.07 L89.28,192.59 L89.68,192.10 L90.08,191.61 L90.49,191.12 L90.91,190.62 L91.34,190.12 L91.78,189.61 L92.23,189.11 L92.68,188.61 L93.14,188.10 L93.61,187.60 L94.09,187.09 L94.58,186.58 L95.08,186.06 L95.58,185.54 L96.09,185.01 L96.61,184.47 L97.14,183.92 L97.68,183.35 L98.22,182.77 L98.78,182.18 L99.34,181.58 L99.90,180.98 L100.48,180.37 L101.07,179.76 L101.66,179.16 L102.26,178.57 L102.86,177.99 L103.48,177.44 L104.10,176.92 L104.73,176.41 L105.37,175.93 L106.01,175.47 L106.66,175.02 L107.32,174.57 L107.99,174.12 L108.66,173.66 L109.35,173.16 L110.03,172.64 L110.73,172.07 L111.43,171.46 L112.14,170.81 L112.86,170.13 L113.58,169.41 L114.31,168.67 L115.05,167.92 L115.79,167.18 L116.54,166.46 L117.30,165.76 L118.06,165.09 L118.83,164.45 L119.60,163.84 L120.39,163.24 L121.17,162.65 L121.97,162.06 L122.77,161.46 L123.58,160.84 L124.39,160.20 L125.21,159.55 L126.03,158.88 L126.86,158.22 L127.70,157.58 L128.54,156.95 L129.39,156.37 L130.24,155.82 L131.10,155.29 L131.97,154.79 L132.84,154.28 L133.71,153.75 L134.59,153.18 L135.48,152.54 L136.37,151.83 L137.26,151.04 L138.17,150.20 L139.07,149.31 L139.98,148.40 L140.90,147.51 L141.82,146.66 L142.74,145.88 L143.67,145.16 L144.61,144.52 L145.54,143.93 L146.49,143.38 L147.43,142.83 L148.38,142.27 L149.34,141.67 L150.30,141.03 L151.26,140.34 L152.23,139.63 L153.20,138.91 L154.18,138.19 L155.15,137.50 L156.14,136.84 L157.12,136.20 L158.11,135.56 L159.10,134.91 L160.10,134.20 L161.10,133.43 L162.10,132.58 L163.11,131.67 L164.12,130.70 L165.13,129.73 L166.14,128.79 L167.16,127.91 L168.18,127.13 L169.20,126.45 L170.23,125.86 L171.25,125.34 L172.28,124.85 L173.32,124.33 L174.35,123.77 L175.39,123.12 L176.43,122.39 L177.47,121.58 L178.51,120.73 L179.56,119.87 L180.60,119.02 L181.65,118.20 L182.70,117.41 L183.75,116.65 L184.80,115.90 L185.86,115.11 L186.91,114.29 L187.97,113.41 L189.03,112.49 L190.09,111.56 L191.15,110.66 L192.21,109.81 L193.27,109.05 L194.33,108.39 L195.39,107.83 L196.46,107.32 L197.52,106.83 L198.59,106.31 L199.65,105.70 L200.71,104.99 L201.78,104.17 L202.85,103.25 L203.91,102.27 L204.98,101.28 L206.04,100.31 L207.10,99.40 L208.17,98.56 L209.23,97.78 L210.30,97.04 L211.36,96.32 L212.42,95.58 L213.48,94.81 L214.54,94.01 L215.60,93.20 L216.66,92.40 L217.72,91.63 L218.78,90.93 L219.83,90.30 L220.89,89.72 L221.94,89.18 L222.99,88.64 L224.04,88.04 L225.09,87.36 L226.13,86.57 L227.18,85.68 L228.22,84.70 L229.26,83.69 L230.30,82.67 L231.34,81.70 L232.37,80.82 L233.41,80.03 L234.44,79.33 L235.46,78.70 L236.49,78.11 L237.51,77.53 L238.53,76.92 L239.55,76.28 L240.56,75.59 L241.57,74.87 L242.58,74.15 L243.59,73.43 L244.59,72.75 L245.59,72.10 L246.59,71.49 L247.58,70.88 L248.57,70.27 L249.55,69.62 L250.54,68.91 L251.51,68.13 L252.49,67.28 L253.46,66.39 L254.43,65.47 L255.39,64.57 L256.35,63.72 L257.31,62.95 L258.26,62.26 L259.20,61.66 L260.15,61.15 L261.08,60.68 L262.02,60.24 L262.95,59.79 L263.87,59.30 L264.79,58.77 L265.71,58.18 L266.62,57.55 L267.52,56.87 L268.43,56.18 L269.32,55.49 L270.21,54.82 L271.10,54.17 L271.98,53.55 L272.85,52.95 L273.72,52.37 L274.59,51.78 L275.45,51.18 L276.30,50.56 L277.15,49.91 L277.99,49.23 L278.83,48.54 L279.66,47.85 L280.48,47.18 L281.30,46.53 L282.11,45.94 L282.92,45.39 L283.72,44.91 L284.52,44.48 L285.30,44.09 L286.09,43.74 L286.86,43.40 L287.63,43.06 L288.39,42.70 L289.15,42.31 L289.90,41.88 L290.64,41.41 L291.38,40.91 L292.11,40.37 L292.83,39.80 L293.55,39.23 L294.26,38.65 L294.96,38.09 L295.66,37.54 L296.34,37.02 L297.03,36.52 L297.70,36.05 L298.37,35.61 L299.03,35.19 L299.68,34.78 L300.32,34.39 L300.96,34.00 L301.59,33.61 L302.21,33.22 L302.83,32.82 L303.43,32.43 L304.03,32.03 L304.62,31.64 L305.21,31.25 L305.79,30.87 L306.35,30.50 L306.91,30.15 L307.47,29.82 L308.01,29.50 L308.55,29.21 L309.08,28.93 L309.60,28.67 L310.11,28.43 L310.61,28.20 L311.11,27.98 L311.60,27.76 L312.08,27.55 L312.55,27.34 L313.01,27.13 L313.46,26.92 L313.91,26.70 L314.35,26.48 L314.78,26.25 L315.20,26.01 L315.61,25.77 L316.01,25.53 L316.41,25.28 L316.79,25.03 L317.17,24.78 L317.54,24.54 L317.90,24.30 L318.25,24.06 L318.59,23.83 L318.93,23.61 L319.25,23.39 L319.57,23.19 L319.87,22.99 L320.17,22.81 L320.46,22.63 L320.74,22.47 L321.01,22.32 L321.27,22.18 L321.53,22.05 L321.77,21.93 L322.01,21.82 L322.23,21.71 L322.45,21.62 L322.66,21.54 L322.86,21.47 L323.05,21.40 L323.23,21.34 L323.40,21.29 L323.56,21.25 L323.71,21.22 L323.86,21.19 L323.99,21.17 L324.12,21.15 L324.23,21.15 L324.34,21.15 L324.44,21.15 L324.52,21.17 L324.60,21.19 L324.67,21.21 L324.73,21.24 L324.78,21.28 L324.83,21.33 L324.86,21.39 L324.88,21.45 L324.90,21.52 L324.90,21.63 L324.90,21.72 L324.88,21.81 L324.86,21.91 L324.83,22.02 L324.78,22.14 L324.73,22.27 L324.67,22.42 L324.60,22.57 L324.52,22.73 L324.44,22.91 L324.34,23.09 L324.23,23.28 L324.12,23.49 L323.99,23.70 L323.86,23.93 L323.71,24.16 L323.56,24.40 L323.40,24.65 L323.23,24.91 L323.05,25.18 L322.86,25.46 L322.66,25.74 L322.45,26.03 L322.23,26.34 L322.01,26.64 L321.77,26.96 L321.53,27.29 L321.27,27.62 L321.01,27.97 L320.74,28.32 L320.46,28.68 L320.17,29.06 L319.87,29.44 L319.57,29.84 L319.25,30.25 L318.93,30.67 L318.59,31.11 L318.25,31.56 L317.90,32.02 L317.54,32.50 L317.17,33.00 L316.79,33.51 L316.41,34.04 L316.01,34.58 L315.61,35.13 L315.20,35.70 L314.78,36.27 L314.35,36.85 L313.91,37.44 L313.46,38.03 L313.01,38.62 L312.55,39.20 L312.08,39.79 L311.60,40.36 L311.11,40.93 L310.61,41.48 L310.11,42.03 L309.60,42.56 L309.08,43.09 L308.55,43.62 L308.01,44.14 L307.47,44.66 L306.91,45.18 L306.35,45.72 L305.79,46.26 L305.21,46.81 L304.62,47.38 L304.03,47.96 L303.43,48.55 L302.83,49.15 L302.21,49.76 L301.59,50.38 L300.96,50.98 L300.32,51.59 L299.68,52.19 L299.03,52.77 L298.37,53.35 L297.70,53.92 L297.03,54.48 L296.34,55.05 L295.66,55.63 L294.96,56.23 L294.26,56.86 L293.55,57.52 L292.83,58.22 L292.11,58.96 L291.38,59.73 L290.64,60.53 L289.90,61.34 L289.15,62.15 L288.39,62.95 L287.63,63.73 L286.86,64.46 L286.09,65.14 L285.30,65.77 L284.52,66.35 L283.72,66.89 L282.92,67.41 L282.11,67.92 L281.30,68.44 L280.48,68.99 L279.66,69.57 L278.83,70.20 L277.99,70.87 L277.15,71.58 L276.30,72.32 L275.45,73.08 L274.59,73.83 L273.72,74.57 L272.85,75.29 L271.98,75.99 L271.10,76.68 L270.21,77.37 L269.32,78.08 L268.43,78.81 L267.52,79.59 L266.62,80.41 L265.71,81.26 L264.79,82.13 L263.87,83.00 L262.95,83.84 L262.02,84.62 L261.08,85.34 L260.15,85.97 L259.20,86.54 L258.26,87.05 L257.31,87.54 L256.35,88.05 L255.39,88.60 L254.43,89.22 L253.46,89.93 L252.49,90.72 L251.51,91.58 L250.54,92.49 L249.55,93.42 L248.57,94.33 L247.58,95.20 L246.59,96.02 L245.59,96.79 L244.59,97.54 L243.59,98.27 L242.58,99.02 L241.57,99.79 L240.56,100.60 L239.55,101.43 L238.53,102.26 L237.51,103.06 L236.49,103.82 L235.46,104.51 L234.44,105.13 L233.41,105.69 L232.37,106.23 L231.34,106.78 L230.30,107.38 L229.26,108.08 L228.22,108.88 L227.18,109.79 L226.13,110.79 L225.09,111.83 L224.04,112.86 L222.99,113.85 L221.94,114.77 L220.89,115.59 L219.83,116.32 L218.78,117.00 L217.72,117.65 L216.66,118.30 L215.60,118.99 L214.54,119.72 L213.48,120.48 L212.42,121.26 L211.36,122.03 L210.30,122.77 L209.23,123.47 L208.17,124.12 L207.10,124.75 L206.04,125.39 L204.98,126.09 L203.91,126.87 L202.85,127.74 L201.78,128.71 L200.71,129.74 L199.65,130.78 L198.59,131.80 L197.52,132.75 L196.46,133.58 L195.39,134.30 L194.33,134.92 L193.27,135.47 L192.21,135.99 L191.15,136.54 L190.09,137.14 L189.03,137.81 L187.97,138.55 L186.91,139.34 L185.86,140.15 L184.80,140.95 L183.75,141.73 L182.70,142.47 L181.65,143.19 L180.60,143.90 L179.56,144.63 L178.51,145.41 L177.47,146.25 L176.43,147.13 L175.39,148.06 L174.35,148.98 L173.32,149.87 L172.28,150.68 L171.25,151.40 L170.23,152.01 L169.20,152.52 L168.18,152.98 L167.16,153.42 L166.14,153.88 L165.13,154.41 L164.12,155.02 L163.11,155.72 L162.10,156.50 L161.10,157.32 L160.10,158.17 L159.10,159.01 L158.11,159.80 L157.12,160.55 L156.14,161.25 L155.15,161.92 L154.18,162.57 L153.20,163.22 L152.23,163.90 L151.26,164.59 L150.30,165.31 L149.34,166.03 L148.38,166.74 L147.43,167.41 L146.49,168.02 L145.54,168.57 L144.61,169.05 L143.67,169.48 L142.74,169.89 L141.82,170.29 L140.90,170.73 L139.98,171.22 L139.07,171.78 L138.17,172.41 L137.26,173.12 L136.37,173.87 L135.48,174.64 L134.59,175.42 L133.71,176.16 L132.84,176.86 L131.97,177.51 L131.10,178.09 L130.24,178.62 L129.39,179.11 L128.54,179.57 L127.70,180.02 L126.86,180.48 L126.03,180.95 L125.21,181.44 L124.39,181.94 L123.58,182.45 L122.77,182.95 L121.97,183.45 L121.17,183.92 L120.39,184.37 L119.60,184.78 L118.83,185.18 L118.06,185.55 L117.30,185.91 L116.54,186.28 L115.79,186.66 L115.05,187.07 L114.31,187.51 L113.58,187.98 L112.86,188.49 L112.14,189.02 L111.43,189.58 L110.73,190.14 L110.03,190.70 L109.35,191.24 L108.66,191.76 L107.99,192.25 L107.32,192.70 L106.66,193.10 L106.01,193.47 L105.37,193.80 L104.73,194.10 L104.10,194.37 L103.48,194.63 L102.86,194.88 L102.26,195.12 L101.66,195.37 L101.07,195.62 L100.48,195.89 L99.90,196.16 L99.34,196.44 L98.78,196.74 L98.22,197.04 L97.68,197.34 L97.14,197.64 L96.61,197.94 L96.09,198.23 L95.58,198.52 L95.08,198.79 L94.58,199.06 L94.09,199.32 L93.61,199.56 L93.14,199.79 L92.68,200.02 L92.23,200.24 L91.78,200.45 L91.34,200.66 L90.91,200.86 L90.49,201.06 L90.08,201.26 L89.68,201.46 L89.28,201.65 L88.90,201.85 L88.52,202.04 L88.15,202.24 L87.79,202.43 L87.44,202.62 L87.10,202.80 L86.76,202.98 L86.44,203.16 L86.12,203.33 L85.82,203.49 L85.52,203.65 L85.23,203.80 L84.95,203.94 L84.68,204.07 L84.42,204.19 L84.16,204.30 L83.92,204.41 L83.68,204.51 L83.46,204.59 L83.24,204.67 L83.03,204.74 L82.83,204.80 L82.64,204.86 L82.46,204.90 L82.29,204.94 L82.13,204.97 L81.98,204.99 L81.83,205.01 L81.70,205.02 L81.57,205.02 L81.46,205.02 L81.35,205.01 L81.25,204.99 L81.17,204.97 L81.09,204.94 L81.02,204.91 L80.96,204.86 L80.91,204.82 L80.86,204.76 L80.83,204.70 L80.81,204.63 L80.79,204.55 L80.79,204.42" fill="none" stroke="#38a03c" stroke-width="1.3" stroke-linejoin="round"/>
<line x1="234.75" y1="72.30" x2="275.05" y2="45.19" stroke="#222" stroke-width="1.15"/><polygon points="279.20,42.40 275.39,47.49 273.05,44.01" fill="#111"/>
<line x1="162.80" y1="160.80" x2="118.31" y2="189.30" stroke="#222" stroke-width="1.15"/><polygon points="114.10,192.00 118.02,187.00 120.28,190.53" fill="#111"/>
<rect x="53.60" y="5.50" width="299.80" height="223.70" fill="none" stroke="#2c2c2c" stroke-width="1.25"/><line x1="53.60" y1="229.20" x2="58.10" y2="229.20" stroke="#2c2c2c" stroke-width="1.2"/><line x1="53.60" y1="191.92" x2="58.10" y2="191.92" stroke="#2c2c2c" stroke-width="1.2"/><line x1="53.60" y1="154.63" x2="58.10" y2="154.63" stroke="#2c2c2c" stroke-width="1.2"/><line x1="53.60" y1="117.35" x2="58.10" y2="117.35" stroke="#2c2c2c" stroke-width="1.2"/><line x1="53.60" y1="80.07" x2="58.10" y2="80.07" stroke="#2c2c2c" stroke-width="1.2"/><line x1="53.60" y1="42.78" x2="58.10" y2="42.78" stroke="#2c2c2c" stroke-width="1.2"/><line x1="53.60" y1="5.50" x2="58.10" y2="5.50" stroke="#2c2c2c" stroke-width="1.2"/><line x1="53.60" y1="210.56" x2="56.10" y2="210.56" stroke="#2c2c2c" stroke-width="1.2"/><line x1="53.60" y1="173.27" x2="56.10" y2="173.27" stroke="#2c2c2c" stroke-width="1.2"/><line x1="53.60" y1="135.99" x2="56.10" y2="135.99" stroke="#2c2c2c" stroke-width="1.2"/><line x1="53.60" y1="98.71" x2="56.10" y2="98.71" stroke="#2c2c2c" stroke-width="1.2"/><line x1="53.60" y1="61.42" x2="56.10" y2="61.42" stroke="#2c2c2c" stroke-width="1.2"/><line x1="53.60" y1="24.14" x2="56.10" y2="24.14" stroke="#2c2c2c" stroke-width="1.2"/><line x1="83.40" y1="229.20" x2="83.40" y2="224.70" stroke="#2c2c2c" stroke-width="1.2"/><line x1="143.40" y1="229.20" x2="143.40" y2="224.70" stroke="#2c2c2c" stroke-width="1.2"/><line x1="203.40" y1="229.20" x2="203.40" y2="224.70" stroke="#2c2c2c" stroke-width="1.2"/><line x1="263.40" y1="229.20" x2="263.40" y2="224.70" stroke="#2c2c2c" stroke-width="1.2"/><line x1="323.40" y1="229.20" x2="323.40" y2="224.70" stroke="#2c2c2c" stroke-width="1.2"/><line x1="113.40" y1="229.20" x2="113.40" y2="226.70" stroke="#2c2c2c" stroke-width="1.2"/><line x1="173.40" y1="229.20" x2="173.40" y2="226.70" stroke="#2c2c2c" stroke-width="1.2"/><line x1="233.40" y1="229.20" x2="233.40" y2="226.70" stroke="#2c2c2c" stroke-width="1.2"/><line x1="293.40" y1="229.20" x2="293.40" y2="226.70" stroke="#2c2c2c" stroke-width="1.2"/><text x="48.90" y="232.10" text-anchor="end" class="tk">-0.15</text><text x="48.90" y="194.82" text-anchor="end" class="tk">-0.10</text><text x="48.90" y="157.53" text-anchor="end" class="tk">-0.05</text><text x="48.90" y="120.25" text-anchor="end" class="tk">0.00</text><text x="48.90" y="82.97" text-anchor="end" class="tk">0.05</text><text x="48.90" y="45.68" text-anchor="end" class="tk">0.10</text><text x="48.90" y="8.40" text-anchor="end" class="tk">0.15</text><text x="83.40" y="241.40" text-anchor="middle" class="tk">-0.4</text><text x="143.40" y="241.40" text-anchor="middle" class="tk">-0.2</text><text x="203.40" y="241.40" text-anchor="middle" class="tk">0.0</text><text x="263.40" y="241.40" text-anchor="middle" class="tk">0.2</text><text x="323.40" y="241.40" text-anchor="middle" class="tk">0.4</text>
<text x="63" y="21.6" class="lg">(a)</text>
<rect x="276.60" y="162.70" width="72.90" height="56.60" fill="#fff" stroke="#8a8a8a" stroke-width="1"/><line x1="281.90" y1="170.30" x2="307.80" y2="170.30" stroke="#2ee6f2" stroke-width="1.4"/><text x="311.20" y="174.50" class="lg">0.1mm</text><line x1="281.90" y1="184.60" x2="307.80" y2="184.60" stroke="#f59a3c" stroke-width="1.4"/><text x="311.20" y="188.80" class="lg">0.2mm</text><line x1="281.90" y1="198.90" x2="307.80" y2="198.90" stroke="#4a4ae8" stroke-width="1.4"/><text x="311.20" y="203.10" class="lg">0.3mm</text><line x1="281.90" y1="213.20" x2="307.80" y2="213.20" stroke="#4fa852" stroke-width="1.4"/><text x="311.20" y="217.40" class="lg">0.4mm</text>
<text x="203.8" y="259.7" text-anchor="middle" class="ti">Displacement (mm)</text>
<text transform="translate(10.2,119.4) rotate(-90)" text-anchor="middle" class="ti">Force (kN)</text>
<path d="M511.78,161.94 L511.78,161.91 L511.79,161.88 L511.80,161.84 L511.82,161.80 L511.84,161.76 L511.86,161.71 L511.89,161.65 L511.93,161.60 L511.97,161.54 L512.01,161.47 L512.06,161.40 L512.11,161.33 L512.17,161.26 L512.23,161.18 L512.30,161.09 L512.37,161.01 L512.45,160.92 L512.53,160.82 L512.61,160.72 L512.70,160.62 L512.80,160.51 L512.90,160.41 L513.00,160.29 L513.11,160.18 L513.22,160.06 L513.34,159.93 L513.46,159.80 L513.59,159.67 L513.72,159.54 L513.85,159.40 L513.99,159.26 L514.14,159.12 L514.29,158.97 L514.44,158.82 L514.60,158.66 L514.76,158.51 L514.92,158.35 L515.09,158.18 L515.27,158.02 L515.45,157.85 L515.63,157.67 L515.82,157.50 L516.01,157.32 L516.21,157.14 L516.41,156.95 L516.62,156.76 L516.83,156.57 L517.04,156.38 L517.26,156.18 L517.48,155.99 L517.71,155.78 L517.94,155.58 L518.17,155.37 L518.41,155.16 L518.65,154.95 L518.90,154.74 L519.15,154.52 L519.41,154.30 L519.67,154.08 L519.93,153.86 L520.20,153.63 L520.47,153.40 L520.75,153.17 L521.02,152.94 L521.31,152.70 L521.60,152.46 L521.89,152.22 L522.18,151.98 L522.48,151.74 L522.78,151.49 L523.09,151.24 L523.40,150.99 L523.71,150.74 L524.03,150.49 L524.35,150.23 L524.68,149.98 L525.01,149.72 L525.34,149.46 L525.67,149.19 L526.01,148.93 L526.36,148.66 L526.70,148.39 L527.05,148.12 L527.41,147.85 L527.76,147.58 L528.12,147.30 L528.49,147.03 L528.86,146.75 L529.23,146.47 L529.60,146.19 L529.98,145.91 L530.36,145.62 L530.74,145.34 L531.13,145.05 L531.52,144.76 L531.91,144.47 L532.31,144.18 L532.71,143.89 L533.11,143.60 L533.51,143.30 L533.92,143.01 L534.33,142.71 L534.75,142.41 L535.16,142.11 L535.58,141.81 L536.01,141.51 L536.43,141.21 L536.86,140.91 L537.29,140.60 L537.72,140.29 L538.16,139.99 L538.60,139.68 L539.04,139.37 L539.48,139.06 L539.93,138.75 L540.38,138.44 L540.83,138.12 L541.29,137.81 L541.74,137.50 L542.20,137.18 L542.66,136.87 L543.12,136.55 L543.59,136.23 L544.06,135.91 L544.53,135.59 L545.00,135.27 L545.47,134.95 L545.95,134.63 L546.43,134.31 L546.91,133.99 L547.39,133.66 L547.87,133.34 L548.36,133.01 L548.85,132.69 L549.34,132.36 L549.83,132.04 L550.32,131.71 L550.82,131.39 L551.31,131.06 L551.81,130.73 L552.31,130.40 L552.81,130.07 L553.32,129.75 L553.82,129.42 L554.33,129.09 L554.83,128.76 L555.34,128.43 L555.85,128.10 L556.36,127.77 L556.87,127.44 L557.39,127.10 L557.90,126.77 L558.42,126.44 L558.93,126.11 L559.45,125.78 L559.97,125.45 L560.49,125.12 L561.01,124.79 L561.53,124.46 L562.06,124.12 L562.58,123.79 L563.10,123.46 L563.63,123.13 L564.15,122.80 L564.68,122.47 L565.21,122.14 L565.73,121.81 L566.26,121.48 L566.79,121.15 L567.32,120.82 L567.85,120.49 L568.38,120.16 L568.91,119.83 L569.44,119.50 L569.97,119.17 L570.50,118.84 L571.03,118.52 L571.56,118.19 L572.09,117.86 L572.62,117.53 L573.15,117.21 L573.68,116.88 L574.21,116.56 L574.74,116.23 L575.27,115.91 L575.80,115.59 L576.33,115.26 L576.86,114.94 L577.39,114.62 L577.92,114.30 L578.45,113.98 L578.98,113.66 L579.51,113.34 L580.03,113.02 L580.56,112.70 L581.09,112.39 L581.61,112.07 L582.14,111.76 L582.66,111.44 L583.18,111.13 L583.71,110.81 L584.23,110.50 L584.75,110.19 L585.27,109.88 L585.79,109.57 L586.31,109.26 L586.82,108.96 L587.34,108.65 L587.85,108.34 L588.37,108.04 L588.88,107.74 L589.39,107.43 L589.90,107.13 L590.41,106.83 L590.91,106.53 L591.42,106.23 L591.92,105.94 L592.43,105.64 L592.93,105.34 L593.43,105.05 L593.93,104.76 L594.42,104.47 L594.92,104.18 L595.41,103.89 L595.90,103.60 L596.39,103.31 L596.88,103.03 L597.37,102.74 L597.85,102.46 L598.33,102.18 L598.81,101.90 L599.29,101.62 L599.77,101.34 L600.24,101.06 L600.71,100.79 L601.18,100.51 L601.65,100.24 L602.12,99.97 L602.58,99.70 L603.04,99.43 L603.50,99.17 L603.95,98.90 L604.41,98.64 L604.86,98.38 L605.31,98.12 L605.76,97.86 L606.20,97.60 L606.64,97.34 L607.08,97.09 L607.52,96.84 L607.95,96.59 L608.38,96.34 L608.81,96.09 L609.23,95.84 L609.66,95.60 L610.08,95.36 L610.49,95.11 L610.91,94.88 L611.32,94.64 L611.73,94.40 L612.13,94.17 L612.53,93.94 L612.93,93.71 L613.33,93.48 L613.72,93.25 L614.11,93.03 L614.50,92.80 L614.88,92.58 L615.26,92.37 L615.64,92.15 L616.01,91.93 L616.38,91.72 L616.75,91.51 L617.12,91.30 L617.48,91.09 L617.83,90.89 L618.19,90.69 L618.54,90.49 L618.88,90.29 L619.23,90.09 L619.57,89.90 L619.90,89.71 L620.23,89.52 L620.56,89.33 L620.89,89.14 L621.21,88.96 L621.53,88.78 L621.84,88.60 L622.15,88.43 L622.46,88.25 L622.76,88.08 L623.06,87.91 L623.35,87.75 L623.64,87.58 L623.93,87.42 L624.22,87.26 L624.49,87.10 L624.77,86.95 L625.04,86.80 L625.31,86.65 L625.57,86.50 L625.83,86.36 L626.09,86.21 L626.34,86.08 L626.59,85.94 L626.83,85.80 L627.07,85.67 L627.30,85.54 L627.53,85.42 L627.76,85.30 L627.98,85.17 L628.20,85.06 L628.41,84.94 L628.62,84.83 L628.83,84.72 L629.03,84.61 L629.23,84.51 L629.42,84.41 L629.61,84.31 L629.79,84.21 L629.97,84.12 L630.15,84.03 L630.32,83.94 L630.48,83.86 L630.64,83.78 L630.80,83.70 L630.95,83.62 L631.10,83.55 L631.25,83.48 L631.39,83.42 L631.52,83.35 L631.65,83.29 L631.78,83.23 L631.90,83.18 L632.02,83.13 L632.13,83.08 L632.24,83.03 L632.34,82.99 L632.44,82.95 L632.54,82.91 L632.63,82.88 L632.71,82.85 L632.79,82.82 L632.87,82.80 L632.94,82.78 L633.01,82.76 L633.07,82.75 L633.13,82.73 L633.18,82.72 L633.23,82.72 L633.27,82.72 L633.31,82.72 L633.35,82.72 L633.38,82.73 L633.40,82.74 L633.42,82.75 L633.44,82.77 L633.45,82.79 L633.46,82.81 L633.46,82.83 L633.46,82.86 L633.45,82.90 L633.44,82.94 L633.42,82.98 L633.40,83.02 L633.38,83.08 L633.35,83.13 L633.31,83.19 L633.27,83.26 L633.23,83.32 L633.18,83.40 L633.13,83.47 L633.07,83.55 L633.01,83.64 L632.94,83.73 L632.87,83.82 L632.79,83.92 L632.71,84.02 L632.63,84.13 L632.54,84.24 L632.44,84.35 L632.34,84.47 L632.24,84.59 L632.13,84.72 L632.02,84.85 L631.90,84.98 L631.78,85.12 L631.65,85.26 L631.52,85.41 L631.39,85.56 L631.25,85.71 L631.10,85.87 L630.95,86.03 L630.80,86.19 L630.64,86.36 L630.48,86.53 L630.32,86.70 L630.15,86.88 L629.97,87.06 L629.79,87.25 L629.61,87.43 L629.42,87.62 L629.23,87.82 L629.03,88.01 L628.83,88.21 L628.62,88.42 L628.41,88.62 L628.20,88.83 L627.98,89.04 L627.76,89.26 L627.53,89.48 L627.30,89.70 L627.07,89.92 L626.83,90.14 L626.59,90.37 L626.34,90.60 L626.09,90.84 L625.83,91.07 L625.57,91.31 L625.31,91.55 L625.04,91.79 L624.77,92.04 L624.49,92.29 L624.22,92.54 L623.93,92.79 L623.64,93.04 L623.35,93.30 L623.06,93.56 L622.76,93.82 L622.46,94.08 L622.15,94.34 L621.84,94.61 L621.53,94.88 L621.21,95.15 L620.89,95.42 L620.56,95.69 L620.23,95.96 L619.90,96.24 L619.57,96.52 L619.23,96.80 L618.88,97.08 L618.54,97.36 L618.19,97.65 L617.83,97.93 L617.48,98.22 L617.12,98.51 L616.75,98.80 L616.38,99.09 L616.01,99.38 L615.64,99.68 L615.26,99.97 L614.88,100.27 L614.50,100.56 L614.11,100.86 L613.72,101.16 L613.33,101.46 L612.93,101.76 L612.53,102.07 L612.13,102.37 L611.73,102.68 L611.32,102.98 L610.91,103.29 L610.49,103.60 L610.08,103.91 L609.66,104.22 L609.23,104.53 L608.81,104.84 L608.38,105.15 L607.95,105.46 L607.52,105.78 L607.08,106.09 L606.64,106.40 L606.20,106.72 L605.76,107.04 L605.31,107.35 L604.86,107.67 L604.41,107.99 L603.95,108.31 L603.50,108.63 L603.04,108.95 L602.58,109.27 L602.12,109.59 L601.65,109.91 L601.18,110.23 L600.71,110.55 L600.24,110.88 L599.77,111.20 L599.29,111.52 L598.81,111.85 L598.33,112.17 L597.85,112.50 L597.37,112.82 L596.88,113.15 L596.39,113.47 L595.90,113.80 L595.41,114.12 L594.92,114.45 L594.42,114.78 L593.93,115.10 L593.43,115.43 L592.93,115.76 L592.43,116.08 L591.92,116.41 L591.42,116.74 L590.91,117.06 L590.41,117.39 L589.90,117.72 L589.39,118.05 L588.88,118.37 L588.37,118.70 L587.85,119.03 L587.34,119.35 L586.82,119.68 L586.31,120.01 L585.79,120.33 L585.27,120.66 L584.75,120.99 L584.23,121.31 L583.71,121.64 L583.18,121.97 L582.66,122.29 L582.14,122.62 L581.61,122.94 L581.09,123.27 L580.56,123.59 L580.03,123.92 L579.51,124.24 L578.98,124.56 L578.45,124.89 L577.92,125.21 L577.39,125.53 L576.86,125.85 L576.33,126.17 L575.80,126.49 L575.27,126.82 L574.74,127.14 L574.21,127.45 L573.68,127.77 L573.15,128.09 L572.62,128.41 L572.09,128.73 L571.56,129.04 L571.03,129.36 L570.50,129.68 L569.97,129.99 L569.44,130.31 L568.91,130.62 L568.38,130.93 L567.85,131.24 L567.32,131.56 L566.79,131.87 L566.26,132.18 L565.73,132.49 L565.21,132.79 L564.68,133.10 L564.15,133.41 L563.63,133.72 L563.10,134.02 L562.58,134.33 L562.06,134.63 L561.53,134.93 L561.01,135.23 L560.49,135.54 L559.97,135.84 L559.45,136.13 L558.93,136.43 L558.42,136.73 L557.90,137.03 L557.39,137.32 L556.87,137.62 L556.36,137.91 L555.85,138.20 L555.34,138.49 L554.83,138.78 L554.33,139.07 L553.82,139.36 L553.32,139.65 L552.81,139.94 L552.31,140.22 L551.81,140.50 L551.31,140.79 L550.82,141.07 L550.32,141.35 L549.83,141.63 L549.34,141.91 L548.85,142.18 L548.36,142.46 L547.87,142.73 L547.39,143.01 L546.91,143.28 L546.43,143.55 L545.95,143.82 L545.47,144.09 L545.00,144.35 L544.53,144.62 L544.06,144.88 L543.59,145.15 L543.12,145.41 L542.66,145.67 L542.20,145.93 L541.74,146.18 L541.29,146.44 L540.83,146.69 L540.38,146.95 L539.93,147.20 L539.48,147.45 L539.04,147.69 L538.60,147.94 L538.16,148.19 L537.72,148.43 L537.29,148.67 L536.86,148.91 L536.43,149.15 L536.01,149.39 L535.58,149.63 L535.16,149.86 L534.75,150.09 L534.33,150.32 L533.92,150.55 L533.51,150.78 L533.11,151.01 L532.71,151.23 L532.31,151.45 L531.91,151.67 L531.52,151.89 L531.13,152.11 L530.74,152.32 L530.36,152.54 L529.98,152.75 L529.60,152.96 L529.23,153.16 L528.86,153.37 L528.49,153.57 L528.12,153.77 L527.76,153.97 L527.41,154.17 L527.05,154.37 L526.70,154.56 L526.36,154.75 L526.01,154.94 L525.67,155.13 L525.34,155.31 L525.01,155.50 L524.68,155.68 L524.35,155.86 L524.03,156.04 L523.71,156.21 L523.40,156.38 L523.09,156.55 L522.78,156.72 L522.48,156.89 L522.18,157.05 L521.89,157.21 L521.60,157.37 L521.31,157.53 L521.02,157.68 L520.75,157.83 L520.47,157.98 L520.20,158.13 L519.93,158.27 L519.67,158.41 L519.41,158.55 L519.15,158.69 L518.90,158.83 L518.65,158.96 L518.41,159.09 L518.17,159.21 L517.94,159.34 L517.71,159.46 L517.48,159.58 L517.26,159.70 L517.04,159.81 L516.83,159.92 L516.62,160.03 L516.41,160.14 L516.21,160.24 L516.01,160.34 L515.82,160.44 L515.63,160.53 L515.45,160.63 L515.27,160.72 L515.09,160.80 L514.92,160.89 L514.76,160.97 L514.60,161.05 L514.44,161.12 L514.29,161.19 L514.14,161.26 L513.99,161.33 L513.85,161.40 L513.72,161.46 L513.59,161.51 L513.46,161.57 L513.34,161.62 L513.22,161.67 L513.11,161.72 L513.00,161.76 L512.90,161.80 L512.80,161.84 L512.70,161.88 L512.61,161.91 L512.53,161.94 L512.45,161.96 L512.37,161.99 L512.30,162.00 L512.23,162.02 L512.17,162.04 L512.11,162.05 L512.06,162.05 L512.01,162.06 L511.97,162.06 L511.93,162.06 L511.89,162.05 L511.86,162.05 L511.84,162.04 L511.82,162.02 L511.80,162.01 L511.79,161.99 L511.78,161.97 L511.78,161.94" fill="none" stroke="#14f0f8" stroke-width="1.15" stroke-linejoin="round"/>
<path d="M500.38,169.71 L500.38,169.68 L500.39,169.64 L500.40,169.60 L500.42,169.55 L500.45,169.50 L500.48,169.45 L500.52,169.38 L500.56,169.32 L500.60,169.24 L500.66,169.16 L500.72,169.08 L500.78,168.99 L500.85,168.90 L500.92,168.80 L501.00,168.70 L501.09,168.59 L501.18,168.48 L501.28,168.36 L501.38,168.24 L501.49,168.11 L501.60,167.98 L501.72,167.84 L501.84,167.70 L501.97,167.55 L502.11,167.40 L502.25,167.25 L502.39,167.09 L502.54,166.92 L502.70,166.76 L502.86,166.58 L503.03,166.41 L503.20,166.23 L503.38,166.04 L503.56,165.85 L503.75,165.66 L503.95,165.46 L504.14,165.26 L504.35,165.05 L504.56,164.84 L504.77,164.63 L504.99,164.42 L505.22,164.20 L505.45,163.97 L505.68,163.75 L505.92,163.52 L506.17,163.28 L506.42,163.05 L506.68,162.81 L506.94,162.56 L507.20,162.32 L507.48,162.07 L507.75,161.81 L508.03,161.56 L508.32,161.30 L508.61,161.04 L508.91,160.77 L509.21,160.51 L509.51,160.24 L509.82,159.96 L510.14,159.69 L510.46,159.41 L510.78,159.13 L511.11,158.85 L511.45,158.57 L511.79,158.28 L512.13,157.99 L512.48,157.70 L512.83,157.40 L513.19,157.11 L513.55,156.81 L513.92,156.51 L514.29,156.21 L514.67,155.90 L515.05,155.60 L515.43,155.29 L515.82,154.98 L516.21,154.67 L516.61,154.35 L517.01,154.04 L517.42,153.72 L517.83,153.40 L518.25,153.08 L518.67,152.75 L519.09,152.43 L519.52,152.10 L519.95,151.77 L520.38,151.45 L520.82,151.11 L521.27,150.78 L521.71,150.45 L522.17,150.11 L522.62,149.77 L523.08,149.44 L523.54,149.10 L524.01,148.75 L524.48,148.41 L524.95,148.07 L525.43,147.72 L525.91,147.37 L526.40,147.03 L526.89,146.68 L527.38,146.33 L527.88,145.97 L528.38,145.62 L528.88,145.26 L529.38,144.91 L529.89,144.55 L530.41,144.19 L530.92,143.83 L531.44,143.47 L531.96,143.11 L532.49,142.75 L533.02,142.39 L533.55,142.02 L534.08,141.65 L534.62,141.29 L535.16,140.92 L535.70,140.55 L536.25,140.18 L536.80,139.81 L537.35,139.44 L537.91,139.06 L538.46,138.69 L539.02,138.32 L539.59,137.94 L540.15,137.57 L540.72,137.19 L541.29,136.81 L541.86,136.43 L542.44,136.05 L543.01,135.67 L543.59,135.29 L544.18,134.91 L544.76,134.53 L545.35,134.15 L545.93,133.76 L546.52,133.38 L547.12,133.00 L547.71,132.61 L548.31,132.23 L548.91,131.84 L549.51,131.45 L550.11,131.07 L550.71,130.68 L551.32,130.29 L551.92,129.90 L552.53,129.52 L553.14,129.13 L553.75,128.74 L554.37,128.35 L554.98,127.96 L555.60,127.57 L556.22,127.18 L556.83,126.79 L557.45,126.40 L558.08,126.01 L558.70,125.62 L559.32,125.23 L559.95,124.84 L560.57,124.45 L561.20,124.06 L561.83,123.67 L562.45,123.28 L563.08,122.89 L563.71,122.50 L564.34,122.11 L564.97,121.72 L565.61,121.33 L566.24,120.94 L566.87,120.55 L567.51,120.16 L568.14,119.78 L568.77,119.39 L569.41,119.00 L570.04,118.61 L570.68,118.23 L571.31,117.84 L571.95,117.45 L572.58,117.07 L573.22,116.68 L573.86,116.30 L574.49,115.91 L575.13,115.53 L575.76,115.14 L576.40,114.76 L577.03,114.38 L577.67,114.00 L578.30,113.62 L578.93,113.24 L579.57,112.86 L580.20,112.48 L580.83,112.10 L581.47,111.72 L582.10,111.35 L582.73,110.97 L583.36,110.59 L583.99,110.22 L584.61,109.85 L585.24,109.47 L585.87,109.10 L586.49,108.73 L587.12,108.36 L587.74,107.99 L588.36,107.62 L588.99,107.25 L589.61,106.89 L590.22,106.52 L590.84,106.16 L591.46,105.79 L592.07,105.43 L592.69,105.07 L593.30,104.71 L593.91,104.35 L594.52,103.99 L595.12,103.63 L595.73,103.28 L596.33,102.92 L596.93,102.57 L597.53,102.22 L598.13,101.87 L598.73,101.52 L599.32,101.17 L599.92,100.82 L600.51,100.47 L601.09,100.13 L601.68,99.78 L602.26,99.44 L602.85,99.10 L603.43,98.76 L604.00,98.42 L604.58,98.08 L605.15,97.75 L605.72,97.41 L606.29,97.08 L606.85,96.75 L607.42,96.41 L607.98,96.09 L608.53,95.76 L609.09,95.43 L609.64,95.11 L610.19,94.78 L610.74,94.46 L611.28,94.14 L611.82,93.82 L612.36,93.51 L612.89,93.19 L613.42,92.88 L613.95,92.57 L614.48,92.26 L615.00,91.95 L615.52,91.64 L616.03,91.34 L616.55,91.03 L617.06,90.73 L617.56,90.43 L618.06,90.13 L618.56,89.84 L619.06,89.54 L619.55,89.25 L620.04,88.96 L620.53,88.67 L621.01,88.39 L621.49,88.10 L621.96,87.82 L622.43,87.54 L622.90,87.26 L623.36,86.98 L623.82,86.71 L624.27,86.44 L624.73,86.17 L625.17,85.90 L625.62,85.63 L626.06,85.37 L626.49,85.11 L626.92,84.85 L627.35,84.59 L627.77,84.34 L628.19,84.09 L628.61,83.84 L629.02,83.59 L629.43,83.35 L629.83,83.11 L630.23,82.87 L630.62,82.63 L631.01,82.39 L631.39,82.16 L631.77,81.93 L632.15,81.71 L632.52,81.48 L632.89,81.26 L633.25,81.04 L633.61,80.83 L633.96,80.61 L634.31,80.40 L634.65,80.19 L634.99,79.99 L635.33,79.79 L635.66,79.59 L635.98,79.39 L636.30,79.20 L636.62,79.01 L636.93,78.82 L637.23,78.64 L637.53,78.46 L637.83,78.28 L638.12,78.11 L638.41,77.94 L638.69,77.77 L638.96,77.60 L639.24,77.44 L639.50,77.28 L639.76,77.13 L640.02,76.98 L640.27,76.83 L640.52,76.68 L640.76,76.54 L640.99,76.40 L641.22,76.27 L641.45,76.14 L641.67,76.01 L641.88,75.89 L642.09,75.77 L642.30,75.65 L642.49,75.54 L642.69,75.43 L642.88,75.32 L643.06,75.22 L643.24,75.12 L643.41,75.02 L643.58,74.93 L643.74,74.84 L643.90,74.76 L644.05,74.68 L644.19,74.60 L644.33,74.53 L644.47,74.46 L644.60,74.40 L644.72,74.34 L644.84,74.28 L644.95,74.23 L645.06,74.18 L645.16,74.13 L645.26,74.09 L645.35,74.06 L645.44,74.02 L645.52,73.99 L645.59,73.97 L645.66,73.95 L645.72,73.93 L645.78,73.92 L645.84,73.91 L645.88,73.90 L645.92,73.90 L645.96,73.90 L645.99,73.91 L646.02,73.92 L646.04,73.93 L646.05,73.95 L646.06,73.97 L646.06,74.00 L646.06,74.03 L646.05,74.07 L646.04,74.11 L646.02,74.16 L645.99,74.22 L645.96,74.28 L645.92,74.34 L645.88,74.42 L645.84,74.50 L645.78,74.58 L645.72,74.67 L645.66,74.77 L645.59,74.87 L645.52,74.97 L645.44,75.09 L645.35,75.20 L645.26,75.33 L645.16,75.46 L645.06,75.59 L644.95,75.73 L644.84,75.88 L644.72,76.03 L644.60,76.18 L644.47,76.34 L644.33,76.51 L644.19,76.68 L644.05,76.85 L643.90,77.04 L643.74,77.22 L643.58,77.41 L643.41,77.61 L643.24,77.81 L643.06,78.01 L642.88,78.22 L642.69,78.43 L642.49,78.65 L642.30,78.87 L642.09,79.09 L641.88,79.32 L641.67,79.56 L641.45,79.80 L641.22,80.04 L640.99,80.28 L640.76,80.53 L640.52,80.78 L640.27,81.04 L640.02,81.30 L639.76,81.56 L639.50,81.83 L639.24,82.10 L638.96,82.37 L638.69,82.65 L638.41,82.93 L638.12,83.21 L637.83,83.49 L637.53,83.78 L637.23,84.07 L636.93,84.36 L636.62,84.66 L636.30,84.96 L635.98,85.26 L635.66,85.56 L635.33,85.87 L634.99,86.18 L634.65,86.49 L634.31,86.80 L633.96,87.11 L633.61,87.43 L633.25,87.75 L632.89,88.07 L632.52,88.39 L632.15,88.72 L631.77,89.04 L631.39,89.37 L631.01,89.70 L630.62,90.03 L630.23,90.36 L629.83,90.70 L629.43,91.03 L629.02,91.37 L628.61,91.71 L628.19,92.05 L627.77,92.39 L627.35,92.74 L626.92,93.08 L626.49,93.43 L626.06,93.78 L625.62,94.12 L625.17,94.47 L624.73,94.82 L624.27,95.18 L623.82,95.53 L623.36,95.88 L622.90,96.24 L622.43,96.60 L621.96,96.95 L621.49,97.31 L621.01,97.67 L620.53,98.03 L620.04,98.39 L619.55,98.75 L619.06,99.12 L618.56,99.48 L618.06,99.84 L617.56,100.21 L617.06,100.57 L616.55,100.94 L616.03,101.31 L615.52,101.68 L615.00,102.05 L614.48,102.42 L613.95,102.79 L613.42,103.16 L612.89,103.53 L612.36,103.90 L611.82,104.27 L611.28,104.65 L610.74,105.02 L610.19,105.40 L609.64,105.77 L609.09,106.15 L608.53,106.52 L607.98,106.90 L607.42,107.28 L606.85,107.66 L606.29,108.03 L605.72,108.41 L605.15,108.79 L604.58,109.17 L604.00,109.55 L603.43,109.93 L602.85,110.31 L602.26,110.69 L601.68,111.07 L601.09,111.45 L600.51,111.83 L599.92,112.21 L599.32,112.60 L598.73,112.98 L598.13,113.36 L597.53,113.74 L596.93,114.13 L596.33,114.51 L595.73,114.89 L595.12,115.27 L594.52,115.66 L593.91,116.04 L593.30,116.42 L592.69,116.81 L592.07,117.19 L591.46,117.57 L590.84,117.95 L590.22,118.34 L589.61,118.72 L588.99,119.10 L588.36,119.49 L587.74,119.87 L587.12,120.25 L586.49,120.63 L585.87,121.01 L585.24,121.39 L584.61,121.78 L583.99,122.16 L583.36,122.54 L582.73,122.92 L582.10,123.30 L581.47,123.68 L580.83,124.06 L580.20,124.44 L579.57,124.82 L578.93,125.19 L578.30,125.57 L577.67,125.95 L577.03,126.33 L576.40,126.70 L575.76,127.08 L575.13,127.45 L574.49,127.83 L573.86,128.20 L573.22,128.58 L572.58,128.95 L571.95,129.32 L571.31,129.69 L570.68,130.07 L570.04,130.44 L569.41,130.81 L568.77,131.18 L568.14,131.54 L567.51,131.91 L566.87,132.28 L566.24,132.65 L565.61,133.01 L564.97,133.38 L564.34,133.74 L563.71,134.10 L563.08,134.47 L562.45,134.83 L561.83,135.19 L561.20,135.55 L560.57,135.91 L559.95,136.27 L559.32,136.62 L558.70,136.98 L558.08,137.33 L557.45,137.69 L556.83,138.04 L556.22,138.39 L555.60,138.75 L554.98,139.10 L554.37,139.45 L553.75,139.79 L553.14,140.14 L552.53,140.49 L551.92,140.83 L551.32,141.18 L550.71,141.52 L550.11,141.86 L549.51,142.20 L548.91,142.54 L548.31,142.88 L547.71,143.22 L547.12,143.55 L546.52,143.89 L545.93,144.22 L545.35,144.55 L544.76,144.89 L544.18,145.22 L543.59,145.54 L543.01,145.87 L542.44,146.20 L541.86,146.52 L541.29,146.85 L540.72,147.17 L540.15,147.49 L539.59,147.81 L539.02,148.13 L538.46,148.44 L537.91,148.76 L537.35,149.07 L536.80,149.39 L536.25,149.70 L535.70,150.01 L535.16,150.31 L534.62,150.62 L534.08,150.93 L533.55,151.23 L533.02,151.53 L532.49,151.83 L531.96,152.13 L531.44,152.43 L530.92,152.72 L530.41,153.02 L529.89,153.31 L529.38,153.60 L528.88,153.89 L528.38,154.17 L527.88,154.46 L527.38,154.74 L526.89,155.02 L526.40,155.30 L525.91,155.58 L525.43,155.86 L524.95,156.13 L524.48,156.40 L524.01,156.67 L523.54,156.94 L523.08,157.21 L522.62,157.47 L522.17,157.74 L521.71,158.00 L521.27,158.25 L520.82,158.51 L520.38,158.76 L519.95,159.02 L519.52,159.27 L519.09,159.51 L518.67,159.76 L518.25,160.00 L517.83,160.24 L517.42,160.48 L517.01,160.72 L516.61,160.95 L516.21,161.18 L515.82,161.41 L515.43,161.64 L515.05,161.86 L514.67,162.08 L514.29,162.30 L513.92,162.52 L513.55,162.73 L513.19,162.94 L512.83,163.15 L512.48,163.35 L512.13,163.56 L511.79,163.76 L511.45,163.95 L511.11,164.15 L510.78,164.34 L510.46,164.53 L510.14,164.72 L509.82,164.90 L509.51,165.08 L509.21,165.26 L508.91,165.43 L508.61,165.60 L508.32,165.77 L508.03,165.94 L507.75,166.10 L507.48,166.26 L507.20,166.41 L506.94,166.57 L506.68,166.72 L506.42,166.86 L506.17,167.00 L505.92,167.14 L505.68,167.28 L505.45,167.41 L505.22,167.54 L504.99,167.67 L504.77,167.79 L504.56,167.91 L504.35,168.03 L504.14,168.14 L503.95,168.25 L503.75,168.36 L503.56,168.46 L503.38,168.56 L503.20,168.65 L503.03,168.74 L502.86,168.83 L502.70,168.92 L502.54,169.00 L502.39,169.07 L502.25,169.15 L502.11,169.21 L501.97,169.28 L501.84,169.34 L501.72,169.40 L501.60,169.46 L501.49,169.51 L501.38,169.55 L501.28,169.60 L501.18,169.63 L501.09,169.67 L501.00,169.70 L500.92,169.73 L500.85,169.75 L500.78,169.77 L500.72,169.79 L500.66,169.80 L500.60,169.81 L500.56,169.82 L500.52,169.82 L500.48,169.81 L500.45,169.81 L500.42,169.79 L500.40,169.78 L500.39,169.76 L500.38,169.74 L500.38,169.71" fill="none" stroke="#259a30" stroke-width="1.15" stroke-linejoin="round"/>
<path d="M452.02,212.30 L452.02,212.25 L452.04,212.19 L452.06,212.11 L452.09,212.01 L452.13,211.90 L452.19,211.76 L452.25,211.61 L452.31,211.44 L452.39,211.26 L452.48,211.05 L452.58,210.83 L452.68,210.59 L452.80,210.34 L452.92,210.07 L453.05,209.78 L453.20,209.48 L453.35,209.16 L453.51,208.83 L453.68,208.48 L453.85,208.12 L454.04,207.75 L454.24,207.36 L454.44,206.96 L454.66,206.54 L454.88,206.11 L455.12,205.68 L455.36,205.22 L455.61,204.76 L455.87,204.29 L456.14,203.81 L456.41,203.32 L456.70,202.82 L456.99,202.31 L457.30,201.79 L457.61,201.26 L457.93,200.73 L458.26,200.19 L458.60,199.64 L458.95,199.09 L459.30,198.53 L459.67,197.96 L460.04,197.39 L460.42,196.82 L460.81,196.24 L461.21,195.66 L461.62,195.07 L462.04,194.49 L462.46,193.89 L462.89,193.30 L463.34,192.71 L463.79,192.11 L464.24,191.51 L464.71,190.91 L465.18,190.31 L465.67,189.71 L466.16,189.11 L466.66,188.51 L467.16,187.91 L467.68,187.31 L468.20,186.71 L468.73,186.11 L469.27,185.51 L469.82,184.91 L470.37,184.31 L470.94,183.72 L471.51,183.12 L472.08,182.53 L472.67,181.94 L473.26,181.35 L473.86,180.76 L474.47,180.17 L475.09,179.59 L475.71,179.00 L476.34,178.42 L476.98,177.84 L477.62,177.26 L478.28,176.69 L478.94,176.11 L479.60,175.54 L480.28,174.97 L480.96,174.39 L481.65,173.83 L482.34,173.26 L483.04,172.69 L483.75,172.12 L484.47,171.56 L485.19,171.00 L485.92,170.43 L486.65,169.87 L487.40,169.31 L488.14,168.75 L488.90,168.19 L489.66,167.63 L490.43,167.07 L491.20,166.52 L491.98,165.96 L492.77,165.40 L493.56,164.84 L494.36,164.28 L495.16,163.72 L495.97,163.16 L496.79,162.61 L497.61,162.05 L498.44,161.48 L499.27,160.92 L500.11,160.36 L500.96,159.80 L501.81,159.24 L502.66,158.67 L503.52,158.11 L504.39,157.54 L505.26,156.97 L506.14,156.40 L507.02,155.83 L507.90,155.26 L508.80,154.69 L509.69,154.11 L510.59,153.54 L511.50,152.96 L512.41,152.38 L513.33,151.80 L514.24,151.22 L515.17,150.63 L516.10,150.05 L517.03,149.46 L517.97,148.87 L518.91,148.29 L519.85,147.69 L520.80,147.10 L521.76,146.51 L522.71,145.91 L523.67,145.31 L524.64,144.71 L525.61,144.11 L526.58,143.51 L527.56,142.91 L528.53,142.30 L529.52,141.70 L530.50,141.09 L531.49,140.48 L532.48,139.87 L533.48,139.26 L534.48,138.65 L535.48,138.03 L536.48,137.42 L537.49,136.80 L538.50,136.19 L539.51,135.57 L540.52,134.95 L541.54,134.33 L542.56,133.71 L543.58,133.09 L544.60,132.47 L545.63,131.85 L546.66,131.22 L547.69,130.60 L548.72,129.98 L549.75,129.35 L550.79,128.73 L551.83,128.10 L552.87,127.48 L553.91,126.85 L554.95,126.23 L555.99,125.60 L557.04,124.97 L558.08,124.35 L559.13,123.72 L560.18,123.10 L561.22,122.47 L562.27,121.85 L563.32,121.22 L564.37,120.60 L565.43,119.97 L566.48,119.35 L567.53,118.72 L568.58,118.10 L569.64,117.48 L570.69,116.85 L571.75,116.23 L572.80,115.61 L573.85,114.99 L574.91,114.37 L575.96,113.75 L577.02,113.13 L578.07,112.51 L579.12,111.89 L580.17,111.27 L581.23,110.65 L582.28,110.04 L583.33,109.42 L584.38,108.80 L585.42,108.19 L586.47,107.57 L587.52,106.96 L588.56,106.35 L589.61,105.74 L590.65,105.12 L591.69,104.51 L592.73,103.90 L593.77,103.29 L594.81,102.69 L595.85,102.08 L596.88,101.47 L597.91,100.86 L598.94,100.26 L599.97,99.65 L601.00,99.05 L602.02,98.44 L603.04,97.84 L604.06,97.24 L605.08,96.63 L606.09,96.03 L607.10,95.43 L608.11,94.83 L609.12,94.23 L610.12,93.63 L611.12,93.03 L612.12,92.43 L613.12,91.83 L614.11,91.23 L615.10,90.63 L616.08,90.04 L617.07,89.44 L618.04,88.84 L619.02,88.25 L619.99,87.65 L620.96,87.06 L621.93,86.46 L622.89,85.87 L623.84,85.27 L624.80,84.68 L625.75,84.08 L626.69,83.49 L627.63,82.90 L628.57,82.30 L629.50,81.71 L630.43,81.12 L631.36,80.53 L632.27,79.94 L633.19,79.35 L634.10,78.76 L635.01,78.16 L635.91,77.57 L636.80,76.99 L637.70,76.40 L638.58,75.81 L639.46,75.22 L640.34,74.63 L641.21,74.04 L642.08,73.46 L642.94,72.87 L643.79,72.29 L644.64,71.70 L645.49,71.12 L646.33,70.53 L647.16,69.95 L647.99,69.37 L648.81,68.79 L649.63,68.21 L650.44,67.63 L651.24,67.05 L652.04,66.47 L652.83,65.89 L653.62,65.32 L654.40,64.74 L655.17,64.17 L655.94,63.60 L656.70,63.03 L657.46,62.46 L658.20,61.90 L658.95,61.33 L659.68,60.77 L660.41,60.21 L661.13,59.65 L661.85,59.09 L662.56,58.53 L663.26,57.98 L663.95,57.43 L664.64,56.88 L665.32,56.34 L666.00,55.79 L666.66,55.25 L667.32,54.72 L667.98,54.18 L668.62,53.65 L669.26,53.12 L669.89,52.60 L670.51,52.07 L671.13,51.55 L671.74,51.04 L672.34,50.53 L672.93,50.02 L673.52,49.52 L674.09,49.02 L674.66,48.53 L675.23,48.04 L675.78,47.55 L676.33,47.07 L676.87,46.59 L677.40,46.12 L677.92,45.65 L678.44,45.19 L678.94,44.74 L679.44,44.29 L679.93,43.84 L680.42,43.40 L680.89,42.97 L681.36,42.54 L681.81,42.12 L682.26,41.70 L682.71,41.29 L683.14,40.89 L683.56,40.50 L683.98,40.11 L684.39,39.73 L684.79,39.35 L685.18,38.98 L685.56,38.62 L685.93,38.27 L686.30,37.92 L686.65,37.58 L687.00,37.25 L687.34,36.93 L687.67,36.62 L687.99,36.31 L688.30,36.01 L688.61,35.72 L688.90,35.44 L689.19,35.17 L689.46,34.90 L689.73,34.65 L689.99,34.40 L690.24,34.16 L690.48,33.93 L690.72,33.72 L690.94,33.50 L691.16,33.30 L691.36,33.11 L691.56,32.93 L691.75,32.76 L691.92,32.59 L692.09,32.44 L692.25,32.30 L692.40,32.16 L692.55,32.04 L692.68,31.93 L692.80,31.82 L692.92,31.73 L693.02,31.65 L693.12,31.57 L693.21,31.51 L693.29,31.46 L693.35,31.41 L693.41,31.38 L693.47,31.36 L693.51,31.35 L693.54,31.35 L693.56,31.35 L693.58,31.37 L693.58,31.40 L693.58,31.45 L693.56,31.51 L693.54,31.59 L693.51,31.70 L693.47,31.82 L693.41,31.96 L693.35,32.12 L693.29,32.30 L693.21,32.50 L693.12,32.72 L693.02,32.96 L692.92,33.21 L692.80,33.48 L692.68,33.77 L692.55,34.08 L692.40,34.40 L692.25,34.74 L692.09,35.10 L691.92,35.47 L691.75,35.86 L691.56,36.27 L691.36,36.68 L691.16,37.12 L690.94,37.56 L690.72,38.02 L690.48,38.49 L690.24,38.98 L689.99,39.48 L689.73,39.98 L689.46,40.50 L689.19,41.03 L688.90,41.57 L688.61,42.12 L688.30,42.68 L687.99,43.25 L687.67,43.82 L687.34,44.41 L687.00,45.00 L686.65,45.59 L686.30,46.19 L685.93,46.80 L685.56,47.42 L685.18,48.03 L684.79,48.66 L684.39,49.28 L683.98,49.91 L683.56,50.55 L683.14,51.18 L682.71,51.82 L682.26,52.46 L681.81,53.10 L681.36,53.75 L680.89,54.39 L680.42,55.04 L679.93,55.68 L679.44,56.33 L678.94,56.97 L678.44,57.62 L677.92,58.26 L677.40,58.91 L676.87,59.55 L676.33,60.19 L675.78,60.83 L675.23,61.47 L674.66,62.11 L674.09,62.74 L673.52,63.37 L672.93,64.00 L672.34,64.63 L671.74,65.26 L671.13,65.88 L670.51,66.50 L669.89,67.12 L669.26,67.74 L668.62,68.36 L667.98,68.97 L667.32,69.58 L666.66,70.18 L666.00,70.79 L665.32,71.39 L664.64,71.99 L663.95,72.59 L663.26,73.19 L662.56,73.78 L661.85,74.37 L661.13,74.96 L660.41,75.55 L659.68,76.13 L658.95,76.72 L658.20,77.30 L657.46,77.88 L656.70,78.46 L655.94,79.04 L655.17,79.61 L654.40,80.19 L653.62,80.76 L652.83,81.33 L652.04,81.91 L651.24,82.48 L650.44,83.05 L649.63,83.62 L648.81,84.19 L647.99,84.76 L647.16,85.33 L646.33,85.89 L645.49,86.46 L644.64,87.03 L643.79,87.60 L642.94,88.17 L642.08,88.74 L641.21,89.31 L640.34,89.88 L639.46,90.45 L638.58,91.02 L637.70,91.59 L636.80,92.16 L635.91,92.73 L635.01,93.30 L634.10,93.88 L633.19,94.45 L632.27,95.02 L631.36,95.60 L630.43,96.18 L629.50,96.75 L628.57,97.33 L627.63,97.91 L626.69,98.49 L625.75,99.07 L624.80,99.66 L623.84,100.24 L622.89,100.82 L621.93,101.41 L620.96,102.00 L619.99,102.58 L619.02,103.17 L618.04,103.76 L617.07,104.35 L616.08,104.94 L615.10,105.53 L614.11,106.13 L613.12,106.72 L612.12,107.31 L611.12,107.91 L610.12,108.50 L609.12,109.10 L608.11,109.70 L607.10,110.30 L606.09,110.89 L605.08,111.49 L604.06,112.09 L603.04,112.69 L602.02,113.29 L601.00,113.89 L599.97,114.49 L598.94,115.10 L597.91,115.70 L596.88,116.30 L595.85,116.90 L594.81,117.50 L593.77,118.11 L592.73,118.71 L591.69,119.31 L590.65,119.92 L589.61,120.52 L588.56,121.12 L587.52,121.72 L586.47,122.33 L585.42,122.93 L584.38,123.53 L583.33,124.13 L582.28,124.73 L581.23,125.33 L580.17,125.94 L579.12,126.54 L578.07,127.14 L577.02,127.74 L575.96,128.34 L574.91,128.93 L573.85,129.53 L572.80,130.13 L571.75,130.73 L570.69,131.32 L569.64,131.92 L568.58,132.52 L567.53,133.11 L566.48,133.71 L565.43,134.30 L564.37,134.90 L563.32,135.49 L562.27,136.08 L561.22,136.67 L560.18,137.26 L559.13,137.85 L558.08,138.44 L557.04,139.03 L555.99,139.62 L554.95,140.21 L553.91,140.80 L552.87,141.39 L551.83,141.97 L550.79,142.56 L549.75,143.14 L548.72,143.73 L547.69,144.31 L546.66,144.90 L545.63,145.48 L544.60,146.06 L543.58,146.65 L542.56,147.23 L541.54,147.81 L540.52,148.39 L539.51,148.97 L538.50,149.55 L537.49,150.13 L536.48,150.71 L535.48,151.29 L534.48,151.87 L533.48,152.45 L532.48,153.03 L531.49,153.61 L530.50,154.18 L529.52,154.76 L528.53,155.34 L527.56,155.92 L526.58,156.49 L525.61,157.07 L524.64,157.65 L523.67,158.22 L522.71,158.80 L521.76,159.38 L520.80,159.95 L519.85,160.53 L518.91,161.10 L517.97,161.68 L517.03,162.26 L516.10,162.83 L515.17,163.41 L514.24,163.98 L513.33,164.56 L512.41,165.13 L511.50,165.71 L510.59,166.28 L509.69,166.86 L508.80,167.43 L507.90,168.00 L507.02,168.58 L506.14,169.15 L505.26,169.72 L504.39,170.30 L503.52,170.87 L502.66,171.44 L501.81,172.01 L500.96,172.58 L500.11,173.16 L499.27,173.73 L498.44,174.30 L497.61,174.86 L496.79,175.43 L495.97,176.00 L495.16,176.57 L494.36,177.13 L493.56,177.70 L492.77,178.26 L491.98,178.83 L491.20,179.39 L490.43,179.95 L489.66,180.51 L488.90,181.07 L488.14,181.63 L487.40,182.19 L486.65,182.74 L485.92,183.29 L485.19,183.84 L484.47,184.39 L483.75,184.94 L483.04,185.49 L482.34,186.03 L481.65,186.57 L480.96,187.11 L480.28,187.65 L479.60,188.18 L478.94,188.72 L478.28,189.25 L477.62,189.77 L476.98,190.30 L476.34,190.82 L475.71,191.34 L475.09,191.85 L474.47,192.36 L473.86,192.87 L473.26,193.37 L472.67,193.87 L472.08,194.37 L471.51,194.86 L470.94,195.35 L470.37,195.83 L469.82,196.31 L469.27,196.79 L468.73,197.26 L468.20,197.73 L467.68,198.19 L467.16,198.64 L466.66,199.09 L466.16,199.54 L465.67,199.98 L465.18,200.41 L464.71,200.84 L464.24,201.26 L463.79,201.68 L463.34,202.09 L462.89,202.50 L462.46,202.90 L462.04,203.29 L461.62,203.67 L461.21,204.05 L460.81,204.42 L460.42,204.79 L460.04,205.14 L459.67,205.49 L459.30,205.84 L458.95,206.17 L458.60,206.50 L458.26,206.82 L457.93,207.13 L457.61,207.43 L457.30,207.73 L456.99,208.02 L456.70,208.30 L456.41,208.57 L456.14,208.83 L455.87,209.08 L455.61,209.33 L455.36,209.56 L455.12,209.79 L454.88,210.01 L454.66,210.21 L454.44,210.41 L454.24,210.60 L454.04,210.78 L453.85,210.95 L453.68,211.12 L453.51,211.27 L453.35,211.41 L453.20,211.54 L453.05,211.66 L452.92,211.78 L452.80,211.88 L452.68,211.97 L452.58,212.06 L452.48,212.13 L452.39,212.19 L452.31,212.24 L452.25,212.29 L452.19,212.32 L452.13,212.34 L452.09,212.35 L452.06,212.35 L452.04,212.34 L452.02,212.33 L452.02,212.30" fill="none" stroke="#2aa6a6" stroke-width="1.15" stroke-linejoin="round"/>
<path d="M464.14,199.62 L464.14,199.58 L464.16,199.53 L464.18,199.46 L464.21,199.38 L464.24,199.29 L464.29,199.19 L464.34,199.07 L464.40,198.94 L464.47,198.79 L464.55,198.64 L464.64,198.47 L464.73,198.29 L464.84,198.10 L464.95,197.90 L465.07,197.68 L465.19,197.45 L465.33,197.21 L465.47,196.96 L465.62,196.70 L465.78,196.43 L465.95,196.15 L466.13,195.86 L466.31,195.56 L466.51,195.24 L466.71,194.92 L466.91,194.59 L467.13,194.25 L467.36,193.90 L467.59,193.54 L467.83,193.18 L468.08,192.80 L468.33,192.42 L468.60,192.04 L468.87,191.64 L469.15,191.24 L469.44,190.83 L469.73,190.41 L470.04,189.99 L470.35,189.57 L470.67,189.13 L470.99,188.70 L471.33,188.25 L471.67,187.81 L472.02,187.35 L472.38,186.90 L472.74,186.44 L473.12,185.98 L473.50,185.51 L473.89,185.04 L474.28,184.57 L474.68,184.09 L475.09,183.61 L475.51,183.13 L475.94,182.65 L476.37,182.17 L476.81,181.68 L477.26,181.19 L477.71,180.70 L478.17,180.21 L478.64,179.72 L479.12,179.22 L479.60,178.73 L480.09,178.23 L480.59,177.74 L481.09,177.24 L481.60,176.74 L482.12,176.24 L482.64,175.75 L483.18,175.25 L483.71,174.75 L484.26,174.25 L484.81,173.75 L485.37,173.25 L485.94,172.75 L486.51,172.25 L487.09,171.75 L487.67,171.25 L488.26,170.75 L488.86,170.25 L489.46,169.75 L490.07,169.25 L490.69,168.75 L491.31,168.25 L491.94,167.75 L492.58,167.25 L493.22,166.75 L493.87,166.25 L494.52,165.75 L495.18,165.25 L495.84,164.74 L496.51,164.24 L497.19,163.74 L497.87,163.24 L498.56,162.73 L499.25,162.23 L499.95,161.73 L500.66,161.22 L501.37,160.72 L502.08,160.21 L502.80,159.70 L503.53,159.20 L504.26,158.69 L505.00,158.18 L505.74,157.67 L506.49,157.16 L507.24,156.65 L508.00,156.13 L508.76,155.62 L509.52,155.11 L510.30,154.59 L511.07,154.07 L511.85,153.56 L512.64,153.04 L513.43,152.52 L514.22,151.99 L515.02,151.47 L515.82,150.95 L516.63,150.42 L517.44,149.90 L518.26,149.37 L519.08,148.84 L519.90,148.31 L520.73,147.78 L521.56,147.25 L522.40,146.71 L523.24,146.18 L524.08,145.64 L524.93,145.10 L525.78,144.56 L526.64,144.02 L527.49,143.48 L528.35,142.94 L529.22,142.39 L530.09,141.85 L530.96,141.30 L531.83,140.76 L532.71,140.21 L533.59,139.66 L534.47,139.11 L535.36,138.56 L536.25,138.00 L537.14,137.45 L538.03,136.90 L538.93,136.34 L539.83,135.79 L540.73,135.23 L541.64,134.67 L542.55,134.11 L543.45,133.55 L544.37,133.00 L545.28,132.44 L546.19,131.88 L547.11,131.31 L548.03,130.75 L548.95,130.19 L549.88,129.63 L550.80,129.07 L551.73,128.50 L552.65,127.94 L553.58,127.38 L554.52,126.81 L555.45,126.25 L556.38,125.69 L557.32,125.12 L558.25,124.56 L559.19,124.00 L560.13,123.43 L561.07,122.87 L562.01,122.30 L562.95,121.74 L563.89,121.18 L564.83,120.62 L565.77,120.05 L566.72,119.49 L567.66,118.93 L568.60,118.37 L569.55,117.81 L570.49,117.25 L571.44,116.69 L572.38,116.13 L573.32,115.57 L574.27,115.01 L575.21,114.45 L576.16,113.89 L577.10,113.34 L578.04,112.78 L578.99,112.22 L579.93,111.67 L580.87,111.11 L581.81,110.56 L582.75,110.01 L583.69,109.46 L584.63,108.90 L585.57,108.35 L586.51,107.80 L587.44,107.25 L588.38,106.71 L589.31,106.16 L590.24,105.61 L591.18,105.06 L592.11,104.52 L593.03,103.97 L593.96,103.43 L594.88,102.89 L595.81,102.35 L596.73,101.81 L597.65,101.26 L598.57,100.73 L599.48,100.19 L600.39,99.65 L601.31,99.11 L602.21,98.58 L603.12,98.04 L604.03,97.51 L604.93,96.97 L605.83,96.44 L606.73,95.91 L607.62,95.38 L608.51,94.85 L609.40,94.32 L610.29,93.79 L611.17,93.26 L612.05,92.73 L612.93,92.21 L613.80,91.68 L614.67,91.16 L615.54,90.63 L616.41,90.11 L617.27,89.59 L618.12,89.07 L618.98,88.55 L619.83,88.03 L620.68,87.51 L621.52,86.99 L622.36,86.48 L623.20,85.96 L624.03,85.45 L624.86,84.93 L625.68,84.42 L626.50,83.91 L627.32,83.40 L628.13,82.89 L628.94,82.38 L629.74,81.87 L630.54,81.37 L631.33,80.86 L632.12,80.36 L632.91,79.85 L633.69,79.35 L634.46,78.85 L635.24,78.35 L636.00,77.85 L636.76,77.35 L637.52,76.86 L638.27,76.36 L639.02,75.87 L639.76,75.38 L640.50,74.89 L641.23,74.40 L641.96,73.91 L642.68,73.42 L643.39,72.94 L644.10,72.46 L644.81,71.98 L645.51,71.50 L646.20,71.02 L646.89,70.54 L647.57,70.07 L648.25,69.60 L648.92,69.13 L649.58,68.66 L650.24,68.20 L650.89,67.73 L651.54,67.27 L652.18,66.81 L652.82,66.36 L653.45,65.90 L654.07,65.45 L654.69,65.00 L655.30,64.56 L655.90,64.12 L656.50,63.68 L657.09,63.24 L657.67,62.80 L658.25,62.37 L658.82,61.95 L659.39,61.52 L659.95,61.10 L660.50,60.68 L661.05,60.27 L661.58,59.86 L662.12,59.45 L662.64,59.05 L663.16,58.65 L663.67,58.25 L664.17,57.86 L664.67,57.47 L665.16,57.09 L665.64,56.71 L666.12,56.33 L666.59,55.96 L667.05,55.60 L667.50,55.24 L667.95,54.88 L668.39,54.53 L668.82,54.18 L669.25,53.84 L669.67,53.51 L670.08,53.17 L670.48,52.85 L670.87,52.53 L671.26,52.21 L671.64,51.90 L672.02,51.60 L672.38,51.30 L672.74,51.01 L673.09,50.72 L673.43,50.44 L673.77,50.17 L674.09,49.90 L674.41,49.64 L674.72,49.38 L675.03,49.13 L675.32,48.89 L675.61,48.66 L675.89,48.43 L676.16,48.20 L676.43,47.99 L676.68,47.78 L676.93,47.58 L677.17,47.38 L677.40,47.19 L677.63,47.01 L677.85,46.84 L678.05,46.67 L678.25,46.51 L678.45,46.36 L678.63,46.22 L678.81,46.08 L678.98,45.95 L679.14,45.83 L679.29,45.72 L679.43,45.61 L679.57,45.51 L679.69,45.42 L679.81,45.34 L679.92,45.26 L680.03,45.20 L680.12,45.14 L680.21,45.09 L680.29,45.04 L680.36,45.01 L680.42,44.98 L680.47,44.96 L680.52,44.95 L680.55,44.95 L680.58,44.95 L680.60,44.96 L680.62,44.98 L680.62,45.01 L680.62,45.05 L680.60,45.11 L680.58,45.18 L680.55,45.26 L680.52,45.35 L680.47,45.47 L680.42,45.59 L680.36,45.73 L680.29,45.88 L680.21,46.04 L680.12,46.22 L680.03,46.41 L679.92,46.62 L679.81,46.84 L679.69,47.07 L679.57,47.31 L679.43,47.57 L679.29,47.83 L679.14,48.11 L678.98,48.40 L678.81,48.70 L678.63,49.02 L678.45,49.34 L678.25,49.68 L678.05,50.02 L677.85,50.38 L677.63,50.74 L677.40,51.12 L677.17,51.50 L676.93,51.89 L676.68,52.29 L676.43,52.70 L676.16,53.12 L675.89,53.54 L675.61,53.98 L675.32,54.41 L675.03,54.86 L674.72,55.31 L674.41,55.77 L674.09,56.23 L673.77,56.70 L673.43,57.18 L673.09,57.66 L672.74,58.14 L672.38,58.63 L672.02,59.13 L671.64,59.62 L671.26,60.12 L670.87,60.63 L670.48,61.13 L670.08,61.64 L669.67,62.15 L669.25,62.67 L668.82,63.19 L668.39,63.71 L667.95,64.23 L667.50,64.75 L667.05,65.27 L666.59,65.80 L666.12,66.32 L665.64,66.85 L665.16,67.38 L664.67,67.91 L664.17,68.43 L663.67,68.96 L663.16,69.49 L662.64,70.02 L662.12,70.55 L661.58,71.08 L661.05,71.61 L660.50,72.14 L659.95,72.67 L659.39,73.20 L658.82,73.73 L658.25,74.25 L657.67,74.78 L657.09,75.31 L656.50,75.84 L655.90,76.36 L655.30,76.89 L654.69,77.41 L654.07,77.94 L653.45,78.46 L652.82,78.98 L652.18,79.51 L651.54,80.03 L650.89,80.55 L650.24,81.07 L649.58,81.59 L648.92,82.11 L648.25,82.63 L647.57,83.15 L646.89,83.67 L646.20,84.19 L645.51,84.71 L644.81,85.23 L644.10,85.75 L643.39,86.27 L642.68,86.79 L641.96,87.30 L641.23,87.82 L640.50,88.34 L639.76,88.86 L639.02,89.38 L638.27,89.90 L637.52,90.42 L636.76,90.94 L636.00,91.46 L635.24,91.98 L634.46,92.50 L633.69,93.02 L632.91,93.54 L632.12,94.06 L631.33,94.58 L630.54,95.11 L629.74,95.63 L628.94,96.16 L628.13,96.68 L627.32,97.20 L626.50,97.73 L625.68,98.26 L624.86,98.78 L624.03,99.31 L623.20,99.84 L622.36,100.37 L621.52,100.90 L620.68,101.43 L619.83,101.96 L618.98,102.49 L618.12,103.03 L617.27,103.56 L616.41,104.09 L615.54,104.63 L614.67,105.16 L613.80,105.70 L612.93,106.24 L612.05,106.77 L611.17,107.31 L610.29,107.85 L609.40,108.39 L608.51,108.93 L607.62,109.47 L606.73,110.01 L605.83,110.55 L604.93,111.09 L604.03,111.63 L603.12,112.18 L602.21,112.72 L601.31,113.26 L600.39,113.80 L599.48,114.35 L598.57,114.89 L597.65,115.43 L596.73,115.98 L595.81,116.52 L594.88,117.07 L593.96,117.61 L593.03,118.16 L592.11,118.70 L591.18,119.25 L590.24,119.79 L589.31,120.33 L588.38,120.88 L587.44,121.42 L586.51,121.97 L585.57,122.51 L584.63,123.06 L583.69,123.60 L582.75,124.14 L581.81,124.69 L580.87,125.23 L579.93,125.77 L578.99,126.31 L578.04,126.85 L577.10,127.39 L576.16,127.94 L575.21,128.48 L574.27,129.02 L573.32,129.55 L572.38,130.09 L571.44,130.63 L570.49,131.17 L569.55,131.71 L568.60,132.24 L567.66,132.78 L566.72,133.31 L565.77,133.85 L564.83,134.38 L563.89,134.92 L562.95,135.45 L562.01,135.98 L561.07,136.51 L560.13,137.04 L559.19,137.57 L558.25,138.10 L557.32,138.63 L556.38,139.16 L555.45,139.69 L554.52,140.22 L553.58,140.74 L552.65,141.27 L551.73,141.79 L550.80,142.32 L549.88,142.84 L548.95,143.36 L548.03,143.88 L547.11,144.40 L546.19,144.93 L545.28,145.44 L544.37,145.96 L543.45,146.48 L542.55,147.00 L541.64,147.52 L540.73,148.03 L539.83,148.55 L538.93,149.06 L538.03,149.58 L537.14,150.09 L536.25,150.61 L535.36,151.12 L534.47,151.63 L533.59,152.14 L532.71,152.65 L531.83,153.16 L530.96,153.67 L530.09,154.18 L529.22,154.69 L528.35,155.19 L527.49,155.70 L526.64,156.20 L525.78,156.71 L524.93,157.21 L524.08,157.72 L523.24,158.22 L522.40,158.72 L521.56,159.22 L520.73,159.72 L519.90,160.22 L519.08,160.72 L518.26,161.22 L517.44,161.72 L516.63,162.22 L515.82,162.71 L515.02,163.21 L514.22,163.70 L513.43,164.20 L512.64,164.69 L511.85,165.18 L511.07,165.67 L510.30,166.16 L509.52,166.65 L508.76,167.14 L508.00,167.63 L507.24,168.11 L506.49,168.60 L505.74,169.08 L505.00,169.56 L504.26,170.04 L503.53,170.52 L502.80,171.00 L502.08,171.48 L501.37,171.95 L500.66,172.43 L499.95,172.90 L499.25,173.37 L498.56,173.84 L497.87,174.31 L497.19,174.77 L496.51,175.24 L495.84,175.70 L495.18,176.16 L494.52,176.62 L493.87,177.08 L493.22,177.53 L492.58,177.98 L491.94,178.43 L491.31,178.88 L490.69,179.32 L490.07,179.77 L489.46,180.21 L488.86,180.64 L488.26,181.08 L487.67,181.51 L487.09,181.94 L486.51,182.37 L485.94,182.79 L485.37,183.21 L484.81,183.63 L484.26,184.04 L483.71,184.45 L483.18,184.86 L482.64,185.26 L482.12,185.66 L481.60,186.06 L481.09,186.45 L480.59,186.84 L480.09,187.22 L479.60,187.60 L479.12,187.98 L478.64,188.35 L478.17,188.72 L477.71,189.08 L477.26,189.44 L476.81,189.79 L476.37,190.14 L475.94,190.49 L475.51,190.83 L475.09,191.16 L474.68,191.49 L474.28,191.81 L473.89,192.13 L473.50,192.45 L473.12,192.75 L472.74,193.06 L472.38,193.35 L472.02,193.64 L471.67,193.93 L471.33,194.21 L470.99,194.48 L470.67,194.75 L470.35,195.01 L470.04,195.26 L469.73,195.51 L469.44,195.75 L469.15,195.99 L468.87,196.22 L468.60,196.44 L468.33,196.65 L468.08,196.86 L467.83,197.06 L467.59,197.26 L467.36,197.44 L467.13,197.62 L466.91,197.80 L466.71,197.96 L466.51,198.12 L466.31,198.27 L466.13,198.42 L465.95,198.55 L465.78,198.68 L465.62,198.80 L465.47,198.92 L465.33,199.02 L465.19,199.12 L465.07,199.21 L464.95,199.29 L464.84,199.37 L464.73,199.44 L464.64,199.49 L464.55,199.55 L464.47,199.59 L464.40,199.62 L464.34,199.65 L464.29,199.67 L464.24,199.68 L464.21,199.69 L464.18,199.68 L464.16,199.67 L464.14,199.65 L464.14,199.62" fill="none" stroke="#f22af2" stroke-width="1.15" stroke-linejoin="round"/>
<path d="M487.66,179.12 L487.66,179.09 L487.67,179.05 L487.69,179.00 L487.71,178.95 L487.74,178.89 L487.78,178.82 L487.82,178.74 L487.87,178.66 L487.92,178.57 L487.98,178.47 L488.05,178.37 L488.12,178.26 L488.20,178.14 L488.29,178.02 L488.38,177.89 L488.48,177.75 L488.59,177.61 L488.70,177.46 L488.82,177.30 L488.95,177.14 L489.08,176.97 L489.22,176.79 L489.36,176.61 L489.51,176.43 L489.67,176.23 L489.83,176.04 L490.00,175.83 L490.18,175.62 L490.36,175.41 L490.55,175.19 L490.74,174.96 L490.94,174.73 L491.15,174.49 L491.36,174.25 L491.58,174.01 L491.81,173.76 L492.04,173.50 L492.28,173.24 L492.52,172.98 L492.77,172.71 L493.03,172.43 L493.29,172.16 L493.56,171.88 L493.83,171.59 L494.11,171.30 L494.39,171.01 L494.69,170.71 L494.98,170.41 L495.29,170.11 L495.60,169.80 L495.91,169.49 L496.23,169.18 L496.56,168.86 L496.89,168.54 L497.23,168.22 L497.58,167.89 L497.93,167.56 L498.28,167.23 L498.64,166.90 L499.01,166.56 L499.38,166.23 L499.76,165.88 L500.14,165.54 L500.53,165.20 L500.93,164.85 L501.33,164.50 L501.73,164.15 L502.14,163.79 L502.56,163.44 L502.98,163.08 L503.41,162.72 L503.84,162.36 L504.28,161.99 L504.72,161.63 L505.17,161.26 L505.62,160.89 L506.08,160.52 L506.54,160.15 L507.01,159.77 L507.48,159.40 L507.96,159.02 L508.44,158.64 L508.93,158.26 L509.42,157.88 L509.92,157.50 L510.42,157.12 L510.93,156.73 L511.44,156.34 L511.95,155.96 L512.47,155.57 L513.00,155.18 L513.53,154.78 L514.06,154.39 L514.60,153.99 L515.14,153.60 L515.69,153.20 L516.24,152.80 L516.80,152.40 L517.36,152.00 L517.92,151.60 L518.49,151.19 L519.06,150.79 L519.64,150.38 L520.22,149.98 L520.81,149.57 L521.39,149.16 L521.99,148.75 L522.58,148.34 L523.18,147.92 L523.79,147.51 L524.39,147.09 L525.01,146.68 L525.62,146.26 L526.24,145.84 L526.86,145.42 L527.49,145.00 L528.11,144.58 L528.75,144.15 L529.38,143.73 L530.02,143.31 L530.66,142.88 L531.31,142.45 L531.96,142.02 L532.61,141.60 L533.26,141.17 L533.92,140.73 L534.58,140.30 L535.24,139.87 L535.91,139.44 L536.58,139.00 L537.25,138.57 L537.92,138.13 L538.60,137.69 L539.28,137.26 L539.96,136.82 L540.64,136.38 L541.33,135.94 L542.02,135.50 L542.71,135.06 L543.40,134.62 L544.10,134.17 L544.80,133.73 L545.50,133.29 L546.20,132.84 L546.90,132.40 L547.61,131.95 L548.32,131.51 L549.03,131.06 L549.74,130.62 L550.45,130.17 L551.17,129.72 L551.88,129.28 L552.60,128.83 L553.32,128.38 L554.04,127.93 L554.77,127.49 L555.49,127.04 L556.21,126.59 L556.94,126.14 L557.67,125.69 L558.40,125.25 L559.13,124.80 L559.86,124.35 L560.59,123.90 L561.32,123.45 L562.06,123.00 L562.79,122.56 L563.52,122.11 L564.26,121.66 L565.00,121.21 L565.73,120.77 L566.47,120.32 L567.21,119.87 L567.95,119.43 L568.68,118.98 L569.42,118.54 L570.16,118.09 L570.90,117.65 L571.64,117.20 L572.38,116.76 L573.12,116.32 L573.86,115.87 L574.60,115.43 L575.34,114.99 L576.08,114.55 L576.81,114.11 L577.55,113.67 L578.29,113.23 L579.03,112.79 L579.76,112.35 L580.50,111.92 L581.24,111.48 L581.97,111.04 L582.70,110.61 L583.44,110.18 L584.17,109.74 L584.90,109.31 L585.63,108.88 L586.36,108.45 L587.09,108.02 L587.82,107.59 L588.55,107.16 L589.27,106.73 L589.99,106.31 L590.72,105.88 L591.44,105.46 L592.16,105.04 L592.88,104.61 L593.59,104.19 L594.31,103.77 L595.02,103.35 L595.73,102.94 L596.44,102.52 L597.15,102.10 L597.86,101.69 L598.56,101.27 L599.26,100.86 L599.96,100.45 L600.66,100.04 L601.36,99.63 L602.05,99.22 L602.74,98.82 L603.43,98.41 L604.12,98.01 L604.80,97.60 L605.48,97.20 L606.16,96.80 L606.84,96.40 L607.51,96.00 L608.18,95.61 L608.85,95.21 L609.52,94.82 L610.18,94.43 L610.84,94.03 L611.50,93.64 L612.15,93.26 L612.80,92.87 L613.45,92.48 L614.10,92.10 L614.74,91.72 L615.38,91.34 L616.01,90.96 L616.65,90.58 L617.27,90.20 L617.90,89.83 L618.52,89.45 L619.14,89.08 L619.75,88.71 L620.37,88.34 L620.97,87.98 L621.58,87.61 L622.18,87.25 L622.77,86.89 L623.37,86.53 L623.95,86.17 L624.54,85.81 L625.12,85.46 L625.70,85.11 L626.27,84.76 L626.84,84.41 L627.40,84.06 L627.96,83.72 L628.52,83.38 L629.07,83.03 L629.62,82.70 L630.16,82.36 L630.70,82.03 L631.23,81.69 L631.76,81.36 L632.29,81.04 L632.81,80.71 L633.32,80.39 L633.83,80.07 L634.34,79.75 L634.84,79.44 L635.34,79.12 L635.83,78.81 L636.32,78.50 L636.80,78.20 L637.28,77.90 L637.75,77.59 L638.22,77.30 L638.68,77.00 L639.14,76.71 L639.59,76.42 L640.04,76.13 L640.48,75.85 L640.92,75.57 L641.35,75.29 L641.78,75.02 L642.20,74.75 L642.62,74.48 L643.03,74.21 L643.43,73.95 L643.83,73.69 L644.23,73.44 L644.62,73.18 L645.00,72.94 L645.38,72.69 L645.75,72.45 L646.12,72.21 L646.48,71.97 L646.83,71.74 L647.18,71.51 L647.53,71.29 L647.87,71.07 L648.20,70.85 L648.53,70.64 L648.85,70.43 L649.16,70.22 L649.47,70.02 L649.78,69.83 L650.07,69.63 L650.37,69.44 L650.65,69.26 L650.93,69.08 L651.20,68.90 L651.47,68.73 L651.73,68.56 L651.99,68.39 L652.24,68.23 L652.48,68.08 L652.72,67.92 L652.95,67.78 L653.18,67.63 L653.40,67.50 L653.61,67.36 L653.82,67.23 L654.02,67.11 L654.21,66.99 L654.40,66.87 L654.58,66.76 L654.76,66.66 L654.93,66.55 L655.09,66.46 L655.25,66.37 L655.40,66.28 L655.54,66.20 L655.68,66.12 L655.81,66.05 L655.94,65.98 L656.06,65.92 L656.17,65.86 L656.28,65.80 L656.38,65.76 L656.47,65.71 L656.56,65.68 L656.64,65.64 L656.71,65.61 L656.78,65.59 L656.84,65.57 L656.89,65.56 L656.94,65.55 L656.98,65.55 L657.02,65.55 L657.05,65.56 L657.07,65.57 L657.09,65.59 L657.10,65.61 L657.10,65.64 L657.10,65.67 L657.09,65.71 L657.07,65.76 L657.05,65.82 L657.02,65.89 L656.98,65.96 L656.94,66.04 L656.89,66.13 L656.84,66.22 L656.78,66.33 L656.71,66.44 L656.64,66.56 L656.56,66.68 L656.47,66.82 L656.38,66.96 L656.28,67.11 L656.17,67.26 L656.06,67.42 L655.94,67.59 L655.81,67.77 L655.68,67.95 L655.54,68.14 L655.40,68.34 L655.25,68.54 L655.09,68.75 L654.93,68.96 L654.76,69.19 L654.58,69.41 L654.40,69.65 L654.21,69.89 L654.02,70.13 L653.82,70.38 L653.61,70.64 L653.40,70.90 L653.18,71.17 L652.95,71.44 L652.72,71.72 L652.48,72.00 L652.24,72.29 L651.99,72.58 L651.73,72.88 L651.47,73.18 L651.20,73.48 L650.93,73.79 L650.65,74.10 L650.37,74.42 L650.07,74.74 L649.78,75.07 L649.47,75.40 L649.16,75.73 L648.85,76.06 L648.53,76.40 L648.20,76.75 L647.87,77.09 L647.53,77.44 L647.18,77.79 L646.83,78.14 L646.48,78.50 L646.12,78.86 L645.75,79.22 L645.38,79.58 L645.00,79.95 L644.62,80.32 L644.23,80.69 L643.83,81.06 L643.43,81.44 L643.03,81.81 L642.62,82.19 L642.20,82.57 L641.78,82.95 L641.35,83.34 L640.92,83.72 L640.48,84.11 L640.04,84.50 L639.59,84.89 L639.14,85.28 L638.68,85.67 L638.22,86.06 L637.75,86.46 L637.28,86.85 L636.80,87.25 L636.32,87.65 L635.83,88.05 L635.34,88.45 L634.84,88.85 L634.34,89.26 L633.83,89.66 L633.32,90.06 L632.81,90.47 L632.29,90.88 L631.76,91.28 L631.23,91.69 L630.70,92.10 L630.16,92.51 L629.62,92.92 L629.07,93.33 L628.52,93.75 L627.96,94.16 L627.40,94.57 L626.84,94.99 L626.27,95.40 L625.70,95.82 L625.12,96.24 L624.54,96.65 L623.95,97.07 L623.37,97.49 L622.77,97.91 L622.18,98.33 L621.58,98.75 L620.97,99.17 L620.37,99.59 L619.75,100.02 L619.14,100.44 L618.52,100.86 L617.90,101.29 L617.27,101.71 L616.65,102.14 L616.01,102.57 L615.38,102.99 L614.74,103.42 L614.10,103.85 L613.45,104.28 L612.80,104.71 L612.15,105.14 L611.50,105.57 L610.84,106.00 L610.18,106.43 L609.52,106.86 L608.85,107.29 L608.18,107.72 L607.51,108.16 L606.84,108.59 L606.16,109.02 L605.48,109.46 L604.80,109.89 L604.12,110.32 L603.43,110.76 L602.74,111.19 L602.05,111.63 L601.36,112.06 L600.66,112.50 L599.96,112.94 L599.26,113.37 L598.56,113.81 L597.86,114.25 L597.15,114.68 L596.44,115.12 L595.73,115.56 L595.02,115.99 L594.31,116.43 L593.59,116.87 L592.88,117.30 L592.16,117.74 L591.44,118.18 L590.72,118.62 L589.99,119.05 L589.27,119.49 L588.55,119.93 L587.82,120.36 L587.09,120.80 L586.36,121.23 L585.63,121.67 L584.90,122.11 L584.17,122.54 L583.44,122.98 L582.70,123.41 L581.97,123.85 L581.24,124.28 L580.50,124.72 L579.76,125.15 L579.03,125.58 L578.29,126.02 L577.55,126.45 L576.81,126.88 L576.08,127.31 L575.34,127.74 L574.60,128.17 L573.86,128.60 L573.12,129.03 L572.38,129.46 L571.64,129.89 L570.90,130.32 L570.16,130.74 L569.42,131.17 L568.68,131.60 L567.95,132.02 L567.21,132.45 L566.47,132.87 L565.73,133.29 L565.00,133.72 L564.26,134.14 L563.52,134.56 L562.79,134.98 L562.06,135.40 L561.32,135.82 L560.59,136.23 L559.86,136.65 L559.13,137.07 L558.40,137.48 L557.67,137.90 L556.94,138.31 L556.21,138.72 L555.49,139.13 L554.77,139.55 L554.04,139.96 L553.32,140.36 L552.60,140.77 L551.88,141.18 L551.17,141.59 L550.45,141.99 L549.74,142.40 L549.03,142.80 L548.32,143.20 L547.61,143.60 L546.90,144.00 L546.20,144.40 L545.50,144.80 L544.80,145.20 L544.10,145.59 L543.40,145.99 L542.71,146.38 L542.02,146.77 L541.33,147.17 L540.64,147.56 L539.96,147.95 L539.28,148.33 L538.60,148.72 L537.92,149.11 L537.25,149.49 L536.58,149.88 L535.91,150.26 L535.24,150.64 L534.58,151.02 L533.92,151.40 L533.26,151.77 L532.61,152.15 L531.96,152.53 L531.31,152.90 L530.66,153.27 L530.02,153.64 L529.38,154.01 L528.75,154.38 L528.11,154.75 L527.49,155.11 L526.86,155.47 L526.24,155.84 L525.62,156.20 L525.01,156.56 L524.39,156.91 L523.79,157.27 L523.18,157.62 L522.58,157.98 L521.99,158.33 L521.39,158.68 L520.81,159.03 L520.22,159.37 L519.64,159.72 L519.06,160.06 L518.49,160.40 L517.92,160.74 L517.36,161.08 L516.80,161.41 L516.24,161.75 L515.69,162.08 L515.14,162.41 L514.60,162.74 L514.06,163.06 L513.53,163.38 L513.00,163.71 L512.47,164.03 L511.95,164.34 L511.44,164.66 L510.93,164.97 L510.42,165.28 L509.92,165.59 L509.42,165.90 L508.93,166.20 L508.44,166.50 L507.96,166.80 L507.48,167.10 L507.01,167.39 L506.54,167.68 L506.08,167.97 L505.62,168.25 L505.17,168.54 L504.72,168.82 L504.28,169.10 L503.84,169.37 L503.41,169.64 L502.98,169.91 L502.56,170.18 L502.14,170.44 L501.73,170.70 L501.33,170.96 L500.93,171.21 L500.53,171.46 L500.14,171.71 L499.76,171.95 L499.38,172.20 L499.01,172.43 L498.64,172.67 L498.28,172.90 L497.93,173.13 L497.58,173.35 L497.23,173.57 L496.89,173.79 L496.56,174.00 L496.23,174.21 L495.91,174.42 L495.60,174.62 L495.29,174.82 L494.98,175.01 L494.69,175.20 L494.39,175.39 L494.11,175.57 L493.83,175.75 L493.56,175.92 L493.29,176.09 L493.03,176.26 L492.77,176.42 L492.52,176.58 L492.28,176.73 L492.04,176.88 L491.81,177.03 L491.58,177.17 L491.36,177.30 L491.15,177.43 L490.94,177.56 L490.74,177.68 L490.55,177.80 L490.36,177.92 L490.18,178.03 L490.00,178.13 L489.83,178.23 L489.67,178.32 L489.51,178.41 L489.36,178.50 L489.22,178.58 L489.08,178.66 L488.95,178.73 L488.82,178.80 L488.70,178.86 L488.59,178.91 L488.48,178.97 L488.38,179.01 L488.29,179.06 L488.20,179.09 L488.12,179.13 L488.05,179.15 L487.98,179.18 L487.92,179.19 L487.87,179.21 L487.82,179.21 L487.78,179.22 L487.74,179.21 L487.71,179.21 L487.69,179.19 L487.67,179.18 L487.66,179.15 L487.66,179.12" fill="none" stroke="#f02828" stroke-width="1.15" stroke-linejoin="round"/>
<path d="M476.14,188.58 L476.14,188.54 L476.15,188.50 L476.17,188.44 L476.20,188.38 L476.23,188.30 L476.27,188.22 L476.32,188.12 L476.38,188.02 L476.44,187.91 L476.51,187.79 L476.58,187.66 L476.67,187.52 L476.76,187.37 L476.86,187.21 L476.97,187.05 L477.08,186.87 L477.20,186.69 L477.33,186.50 L477.46,186.30 L477.61,186.09 L477.76,185.87 L477.91,185.65 L478.08,185.42 L478.25,185.18 L478.43,184.93 L478.62,184.68 L478.81,184.42 L479.01,184.15 L479.22,183.87 L479.43,183.59 L479.65,183.30 L479.88,183.01 L480.12,182.71 L480.36,182.40 L480.61,182.09 L480.87,181.77 L481.13,181.45 L481.40,181.12 L481.68,180.78 L481.97,180.44 L482.26,180.10 L482.56,179.75 L482.86,179.40 L483.17,179.04 L483.49,178.68 L483.82,178.31 L484.15,177.95 L484.49,177.57 L484.84,177.20 L485.19,176.82 L485.55,176.43 L485.92,176.05 L486.29,175.66 L486.67,175.27 L487.05,174.87 L487.45,174.48 L487.85,174.08 L488.25,173.67 L488.66,173.27 L489.08,172.86 L489.51,172.45 L489.94,172.04 L490.37,171.63 L490.82,171.22 L491.27,170.80 L491.72,170.38 L492.19,169.96 L492.65,169.54 L493.13,169.12 L493.61,168.70 L494.10,168.27 L494.59,167.85 L495.09,167.42 L495.59,166.99 L496.10,166.56 L496.62,166.13 L497.14,165.70 L497.67,165.27 L498.20,164.83 L498.74,164.40 L499.28,163.96 L499.84,163.52 L500.39,163.08 L500.95,162.64 L501.52,162.20 L502.09,161.76 L502.67,161.32 L503.25,160.88 L503.84,160.43 L504.43,159.99 L505.03,159.54 L505.64,159.09 L506.24,158.65 L506.86,158.20 L507.48,157.75 L508.10,157.30 L508.73,156.84 L509.36,156.39 L510.00,155.94 L510.65,155.48 L511.29,155.03 L511.95,154.57 L512.61,154.11 L513.27,153.65 L513.93,153.19 L514.60,152.73 L515.28,152.26 L515.96,151.80 L516.64,151.34 L517.33,150.87 L518.03,150.40 L518.72,149.93 L519.42,149.46 L520.13,148.99 L520.84,148.52 L521.55,148.05 L522.27,147.57 L522.99,147.10 L523.71,146.62 L524.44,146.14 L525.17,145.66 L525.91,145.18 L526.65,144.70 L527.39,144.22 L528.14,143.74 L528.88,143.25 L529.64,142.77 L530.39,142.28 L531.15,141.79 L531.92,141.31 L532.68,140.82 L533.45,140.33 L534.22,139.83 L535.00,139.34 L535.77,138.85 L536.55,138.36 L537.34,137.86 L538.12,137.36 L538.91,136.87 L539.70,136.37 L540.49,135.87 L541.29,135.37 L542.09,134.87 L542.89,134.37 L543.69,133.87 L544.50,133.37 L545.30,132.87 L546.11,132.37 L546.92,131.86 L547.74,131.36 L548.55,130.86 L549.37,130.35 L550.19,129.85 L551.01,129.34 L551.83,128.84 L552.66,128.33 L553.48,127.83 L554.31,127.32 L555.14,126.81 L555.97,126.31 L556.80,125.80 L557.63,125.29 L558.46,124.79 L559.30,124.28 L560.13,123.78 L560.97,123.27 L561.80,122.76 L562.64,122.26 L563.48,121.75 L564.32,121.24 L565.16,120.74 L566.00,120.23 L566.84,119.73 L567.68,119.22 L568.53,118.72 L569.37,118.22 L570.21,117.71 L571.05,117.21 L571.90,116.71 L572.74,116.20 L573.58,115.70 L574.43,115.20 L575.27,114.70 L576.11,114.20 L576.95,113.70 L577.80,113.20 L578.64,112.71 L579.48,112.21 L580.32,111.71 L581.16,111.21 L582.00,110.72 L582.84,110.22 L583.68,109.73 L584.51,109.24 L585.35,108.74 L586.18,108.25 L587.02,107.76 L587.85,107.27 L588.68,106.78 L589.51,106.29 L590.34,105.81 L591.17,105.32 L592.00,104.84 L592.82,104.35 L593.65,103.87 L594.47,103.38 L595.29,102.90 L596.11,102.42 L596.93,101.94 L597.74,101.46 L598.56,100.98 L599.37,100.51 L600.18,100.03 L600.98,99.55 L601.79,99.08 L602.59,98.61 L603.39,98.13 L604.19,97.66 L604.99,97.19 L605.78,96.72 L606.57,96.25 L607.36,95.79 L608.14,95.32 L608.93,94.86 L609.71,94.39 L610.48,93.93 L611.26,93.47 L612.03,93.01 L612.80,92.55 L613.56,92.09 L614.33,91.63 L615.09,91.18 L615.84,90.72 L616.60,90.27 L617.34,89.82 L618.09,89.37 L618.83,88.92 L619.57,88.47 L620.31,88.02 L621.04,87.57 L621.77,87.13 L622.49,86.69 L623.21,86.24 L623.93,85.80 L624.64,85.36 L625.35,84.93 L626.06,84.49 L626.76,84.06 L627.45,83.62 L628.15,83.19 L628.84,82.76 L629.52,82.33 L630.20,81.90 L630.88,81.48 L631.55,81.05 L632.21,80.63 L632.87,80.21 L633.53,79.79 L634.19,79.37 L634.83,78.96 L635.48,78.55 L636.12,78.13 L636.75,77.72 L637.38,77.32 L638.00,76.91 L638.62,76.51 L639.24,76.11 L639.84,75.71 L640.45,75.31 L641.05,74.91 L641.64,74.52 L642.23,74.13 L642.81,73.74 L643.39,73.36 L643.96,72.97 L644.53,72.59 L645.09,72.21 L645.64,71.84 L646.20,71.47 L646.74,71.10 L647.28,70.73 L647.81,70.36 L648.34,70.00 L648.86,69.64 L649.38,69.29 L649.89,68.93 L650.39,68.58 L650.89,68.24 L651.38,67.89 L651.87,67.55 L652.35,67.22 L652.83,66.88 L653.29,66.56 L653.76,66.23 L654.21,65.91 L654.66,65.59 L655.11,65.27 L655.54,64.96 L655.97,64.65 L656.40,64.35 L656.82,64.05 L657.23,63.75 L657.63,63.46 L658.03,63.18 L658.43,62.89 L658.81,62.61 L659.19,62.34 L659.56,62.07 L659.93,61.80 L660.29,61.54 L660.64,61.29 L660.99,61.03 L661.33,60.79 L661.66,60.54 L661.99,60.31 L662.31,60.08 L662.62,59.85 L662.92,59.63 L663.22,59.41 L663.51,59.20 L663.80,58.99 L664.08,58.79 L664.35,58.59 L664.61,58.40 L664.87,58.21 L665.12,58.03 L665.36,57.86 L665.60,57.69 L665.83,57.53 L666.05,57.37 L666.26,57.22 L666.47,57.07 L666.67,56.93 L666.86,56.80 L667.05,56.67 L667.23,56.55 L667.40,56.43 L667.57,56.32 L667.72,56.22 L667.87,56.12 L668.02,56.03 L668.15,55.94 L668.28,55.86 L668.40,55.79 L668.51,55.72 L668.62,55.66 L668.72,55.60 L668.81,55.55 L668.90,55.51 L668.97,55.48 L669.04,55.45 L669.10,55.42 L669.16,55.41 L669.21,55.40 L669.25,55.39 L669.28,55.39 L669.31,55.40 L669.33,55.42 L669.34,55.44 L669.34,55.47 L669.34,55.51 L669.33,55.55 L669.31,55.61 L669.28,55.68 L669.25,55.76 L669.21,55.85 L669.16,55.95 L669.10,56.06 L669.04,56.18 L668.97,56.31 L668.90,56.45 L668.81,56.60 L668.72,56.76 L668.62,56.93 L668.51,57.11 L668.40,57.30 L668.28,57.50 L668.15,57.71 L668.02,57.93 L667.87,58.15 L667.72,58.39 L667.57,58.63 L667.40,58.89 L667.23,59.15 L667.05,59.42 L666.86,59.69 L666.67,59.98 L666.47,60.27 L666.26,60.57 L666.05,60.88 L665.83,61.19 L665.60,61.51 L665.36,61.84 L665.12,62.18 L664.87,62.52 L664.61,62.87 L664.35,63.22 L664.08,63.58 L663.80,63.94 L663.51,64.31 L663.22,64.69 L662.92,65.06 L662.62,65.45 L662.31,65.84 L661.99,66.23 L661.66,66.63 L661.33,67.03 L660.99,67.44 L660.64,67.84 L660.29,68.26 L659.93,68.67 L659.56,69.09 L659.19,69.51 L658.81,69.94 L658.43,70.36 L658.03,70.79 L657.63,71.23 L657.23,71.66 L656.82,72.10 L656.40,72.54 L655.97,72.98 L655.54,73.42 L655.11,73.86 L654.66,74.31 L654.21,74.76 L653.76,75.21 L653.29,75.66 L652.83,76.11 L652.35,76.56 L651.87,77.01 L651.38,77.47 L650.89,77.92 L650.39,78.38 L649.89,78.83 L649.38,79.29 L648.86,79.75 L648.34,80.21 L647.81,80.67 L647.28,81.13 L646.74,81.59 L646.20,82.05 L645.64,82.51 L645.09,82.97 L644.53,83.44 L643.96,83.90 L643.39,84.36 L642.81,84.82 L642.23,85.29 L641.64,85.75 L641.05,86.22 L640.45,86.68 L639.84,87.15 L639.24,87.61 L638.62,88.08 L638.00,88.55 L637.38,89.01 L636.75,89.48 L636.12,89.95 L635.48,90.42 L634.83,90.88 L634.19,91.35 L633.53,91.82 L632.87,92.29 L632.21,92.76 L631.55,93.23 L630.88,93.70 L630.20,94.17 L629.52,94.65 L628.84,95.12 L628.15,95.59 L627.45,96.07 L626.76,96.54 L626.06,97.01 L625.35,97.49 L624.64,97.96 L623.93,98.44 L623.21,98.92 L622.49,99.39 L621.77,99.87 L621.04,100.35 L620.31,100.83 L619.57,101.31 L618.83,101.79 L618.09,102.27 L617.34,102.75 L616.60,103.23 L615.84,103.71 L615.09,104.20 L614.33,104.68 L613.56,105.16 L612.80,105.65 L612.03,106.13 L611.26,106.62 L610.48,107.10 L609.71,107.59 L608.93,108.08 L608.14,108.56 L607.36,109.05 L606.57,109.54 L605.78,110.03 L604.99,110.52 L604.19,111.01 L603.39,111.50 L602.59,111.98 L601.79,112.47 L600.98,112.96 L600.18,113.45 L599.37,113.95 L598.56,114.44 L597.74,114.93 L596.93,115.42 L596.11,115.91 L595.29,116.40 L594.47,116.89 L593.65,117.38 L592.82,117.87 L592.00,118.36 L591.17,118.86 L590.34,119.35 L589.51,119.84 L588.68,120.33 L587.85,120.82 L587.02,121.31 L586.18,121.80 L585.35,122.29 L584.51,122.78 L583.68,123.27 L582.84,123.76 L582.00,124.25 L581.16,124.74 L580.32,125.23 L579.48,125.71 L578.64,126.20 L577.80,126.69 L576.95,127.18 L576.11,127.66 L575.27,128.15 L574.43,128.63 L573.58,129.12 L572.74,129.60 L571.90,130.09 L571.05,130.57 L570.21,131.05 L569.37,131.53 L568.53,132.01 L567.68,132.50 L566.84,132.98 L566.00,133.45 L565.16,133.93 L564.32,134.41 L563.48,134.89 L562.64,135.36 L561.80,135.84 L560.97,136.32 L560.13,136.79 L559.30,137.26 L558.46,137.74 L557.63,138.21 L556.80,138.68 L555.97,139.15 L555.14,139.62 L554.31,140.09 L553.48,140.56 L552.66,141.02 L551.83,141.49 L551.01,141.95 L550.19,142.42 L549.37,142.88 L548.55,143.34 L547.74,143.81 L546.92,144.27 L546.11,144.73 L545.30,145.19 L544.50,145.64 L543.69,146.10 L542.89,146.56 L542.09,147.01 L541.29,147.47 L540.49,147.92 L539.70,148.37 L538.91,148.83 L538.12,149.28 L537.34,149.73 L536.55,150.18 L535.77,150.62 L535.00,151.07 L534.22,151.52 L533.45,151.96 L532.68,152.41 L531.92,152.85 L531.15,153.29 L530.39,153.73 L529.64,154.17 L528.88,154.61 L528.14,155.05 L527.39,155.48 L526.65,155.92 L525.91,156.35 L525.17,156.79 L524.44,157.22 L523.71,157.65 L522.99,158.08 L522.27,158.51 L521.55,158.93 L520.84,159.36 L520.13,159.79 L519.42,160.21 L518.72,160.63 L518.03,161.05 L517.33,161.47 L516.64,161.89 L515.96,162.31 L515.28,162.72 L514.60,163.13 L513.93,163.55 L513.27,163.96 L512.61,164.37 L511.95,164.77 L511.29,165.18 L510.65,165.58 L510.00,165.99 L509.36,166.39 L508.73,166.79 L508.10,167.18 L507.48,167.58 L506.86,167.97 L506.24,168.36 L505.64,168.75 L505.03,169.14 L504.43,169.52 L503.84,169.91 L503.25,170.29 L502.67,170.67 L502.09,171.04 L501.52,171.42 L500.95,171.79 L500.39,172.16 L499.84,172.53 L499.28,172.89 L498.74,173.25 L498.20,173.61 L497.67,173.97 L497.14,174.32 L496.62,174.67 L496.10,175.02 L495.59,175.37 L495.09,175.71 L494.59,176.05 L494.10,176.39 L493.61,176.72 L493.13,177.05 L492.65,177.37 L492.19,177.70 L491.72,178.02 L491.27,178.33 L490.82,178.65 L490.37,178.95 L489.94,179.26 L489.51,179.56 L489.08,179.86 L488.66,180.15 L488.25,180.44 L487.85,180.73 L487.45,181.01 L487.05,181.29 L486.67,181.56 L486.29,181.83 L485.92,182.10 L485.55,182.36 L485.19,182.62 L484.84,182.87 L484.49,183.11 L484.15,183.36 L483.82,183.60 L483.49,183.83 L483.17,184.06 L482.86,184.28 L482.56,184.50 L482.26,184.71 L481.97,184.92 L481.68,185.12 L481.40,185.32 L481.13,185.52 L480.87,185.70 L480.61,185.89 L480.36,186.06 L480.12,186.23 L479.88,186.40 L479.65,186.56 L479.43,186.72 L479.22,186.87 L479.01,187.01 L478.81,187.15 L478.62,187.28 L478.43,187.41 L478.25,187.53 L478.08,187.64 L477.91,187.75 L477.76,187.85 L477.61,187.95 L477.46,188.04 L477.33,188.12 L477.20,188.20 L477.08,188.27 L476.97,188.34 L476.86,188.40 L476.76,188.45 L476.67,188.50 L476.58,188.54 L476.51,188.58 L476.44,188.61 L476.38,188.63 L476.32,188.64 L476.27,188.65 L476.23,188.66 L476.20,188.65 L476.17,188.65 L476.15,188.63 L476.14,188.61 L476.14,188.58" fill="none" stroke="#2a2af4" stroke-width="1.15" stroke-linejoin="round"/>
<line x1="657.00" y1="56.30" x2="684.45" y2="33.49" stroke="#222" stroke-width="1.15"/><polygon points="688.30,30.30 685.03,35.75 682.34,32.52" fill="#111"/>
<line x1="550.00" y1="121.60" x2="576.78" y2="105.93" stroke="#222" stroke-width="1.15"/><polygon points="581.10,103.40 576.98,108.24 574.86,104.62" fill="#111"/>
<line x1="449.50" y1="202.00" x2="468.21" y2="179.35" stroke="#222" stroke-width="1.15"/><polygon points="471.40,175.50 469.20,181.46 465.96,178.79" fill="#111"/>
<rect x="423.30" y="5.50" width="299.50" height="223.70" fill="none" stroke="#2c2c2c" stroke-width="1.25"/><line x1="423.30" y1="229.20" x2="427.80" y2="229.20" stroke="#2c2c2c" stroke-width="1.2"/><line x1="423.30" y1="202.88" x2="427.80" y2="202.88" stroke="#2c2c2c" stroke-width="1.2"/><line x1="423.30" y1="176.56" x2="427.80" y2="176.56" stroke="#2c2c2c" stroke-width="1.2"/><line x1="423.30" y1="150.25" x2="427.80" y2="150.25" stroke="#2c2c2c" stroke-width="1.2"/><line x1="423.30" y1="123.93" x2="427.80" y2="123.93" stroke="#2c2c2c" stroke-width="1.2"/><line x1="423.30" y1="97.61" x2="427.80" y2="97.61" stroke="#2c2c2c" stroke-width="1.2"/><line x1="423.30" y1="71.29" x2="427.80" y2="71.29" stroke="#2c2c2c" stroke-width="1.2"/><line x1="423.30" y1="44.98" x2="427.80" y2="44.98" stroke="#2c2c2c" stroke-width="1.2"/><line x1="423.30" y1="18.66" x2="427.80" y2="18.66" stroke="#2c2c2c" stroke-width="1.2"/><line x1="423.30" y1="216.04" x2="425.80" y2="216.04" stroke="#2c2c2c" stroke-width="1.2"/><line x1="423.30" y1="189.72" x2="425.80" y2="189.72" stroke="#2c2c2c" stroke-width="1.2"/><line x1="423.30" y1="163.41" x2="425.80" y2="163.41" stroke="#2c2c2c" stroke-width="1.2"/><line x1="423.30" y1="137.09" x2="425.80" y2="137.09" stroke="#2c2c2c" stroke-width="1.2"/><line x1="423.30" y1="110.77" x2="425.80" y2="110.77" stroke="#2c2c2c" stroke-width="1.2"/><line x1="423.30" y1="84.45" x2="425.80" y2="84.45" stroke="#2c2c2c" stroke-width="1.2"/><line x1="423.30" y1="58.14" x2="425.80" y2="58.14" stroke="#2c2c2c" stroke-width="1.2"/><line x1="423.30" y1="31.82" x2="425.80" y2="31.82" stroke="#2c2c2c" stroke-width="1.2"/><line x1="453.10" y1="229.20" x2="453.10" y2="224.70" stroke="#2c2c2c" stroke-width="1.2"/><line x1="513.10" y1="229.20" x2="513.10" y2="224.70" stroke="#2c2c2c" stroke-width="1.2"/><line x1="573.10" y1="229.20" x2="573.10" y2="224.70" stroke="#2c2c2c" stroke-width="1.2"/><line x1="633.10" y1="229.20" x2="633.10" y2="224.70" stroke="#2c2c2c" stroke-width="1.2"/><line x1="693.10" y1="229.20" x2="693.10" y2="224.70" stroke="#2c2c2c" stroke-width="1.2"/><line x1="483.10" y1="229.20" x2="483.10" y2="226.70" stroke="#2c2c2c" stroke-width="1.2"/><line x1="543.10" y1="229.20" x2="543.10" y2="226.70" stroke="#2c2c2c" stroke-width="1.2"/><line x1="603.10" y1="229.20" x2="603.10" y2="226.70" stroke="#2c2c2c" stroke-width="1.2"/><line x1="663.10" y1="229.20" x2="663.10" y2="226.70" stroke="#2c2c2c" stroke-width="1.2"/><text x="418.00" y="232.10" text-anchor="end" class="tk">-0.4</text><text x="418.00" y="205.78" text-anchor="end" class="tk">-0.3</text><text x="418.00" y="179.46" text-anchor="end" class="tk">-0.2</text><text x="418.00" y="153.15" text-anchor="end" class="tk">-0.1</text><text x="418.00" y="126.83" text-anchor="end" class="tk">0.0</text><text x="418.00" y="100.51" text-anchor="end" class="tk">0.1</text><text x="418.00" y="74.19" text-anchor="end" class="tk">0.2</text><text x="418.00" y="47.88" text-anchor="end" class="tk">0.3</text><text x="418.00" y="21.56" text-anchor="end" class="tk">0.4</text><text x="453.10" y="241.40" text-anchor="middle" class="tk">-1.0</text><text x="513.10" y="241.40" text-anchor="middle" class="tk">-0.5</text><text x="573.10" y="241.40" text-anchor="middle" class="tk">0.0</text><text x="633.10" y="241.40" text-anchor="middle" class="tk">0.5</text><text x="693.10" y="241.40" text-anchor="middle" class="tk">1.0</text>
<text x="433.3" y="21.6" class="lg">(b)</text>
<rect x="647.50" y="134.70" width="70.80" height="85.30" fill="#fff" stroke="#8a8a8a" stroke-width="1"/><line x1="651.80" y1="142.30" x2="677.90" y2="142.30" stroke="#33e8f2" stroke-width="1.4"/><text x="681.10" y="146.50" class="lg">0.5mm</text><line x1="651.80" y1="156.52" x2="677.90" y2="156.52" stroke="#3f9f47" stroke-width="1.4"/><text x="681.10" y="160.72" class="lg">0.6mm</text><line x1="651.80" y1="170.74" x2="677.90" y2="170.74" stroke="#ee4b4b" stroke-width="1.4"/><text x="681.10" y="174.94" class="lg">0.7mm</text><line x1="651.80" y1="184.96" x2="677.90" y2="184.96" stroke="#5555ee" stroke-width="1.4"/><text x="681.10" y="189.16" class="lg">0.8mm</text><line x1="651.80" y1="199.18" x2="677.90" y2="199.18" stroke="#ee55ee" stroke-width="1.4"/><text x="681.10" y="203.38" class="lg">0.9mm</text><line x1="651.80" y1="213.40" x2="677.90" y2="213.40" stroke="#4fb3b3" stroke-width="1.4"/><text x="681.10" y="217.60" class="lg">1.0mm</text>
<text x="573.5" y="259.7" text-anchor="middle" class="ti">Displacement (mm)</text>
<text transform="translate(384.4,119.2) rotate(-90)" text-anchor="middle" class="ti">Force (kN)</text>
</svg>
</body></html>
